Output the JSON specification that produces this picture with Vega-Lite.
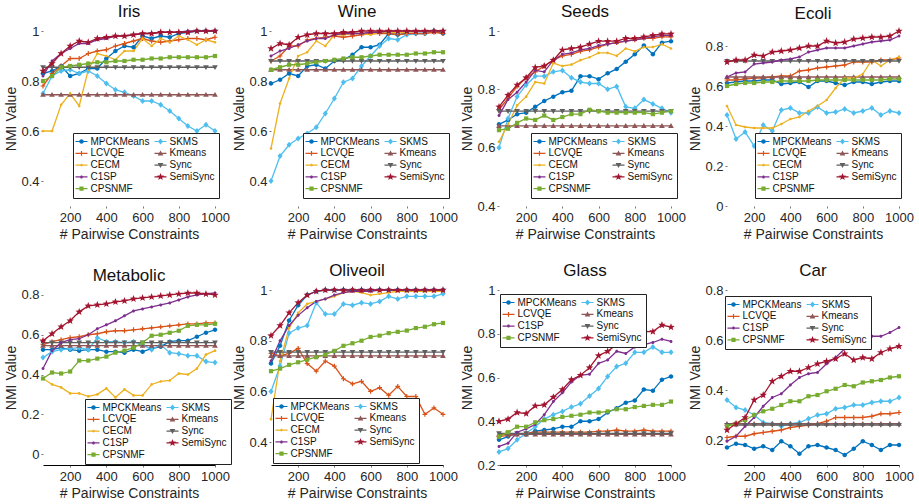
{
"$schema": "https://vega.github.io/schema/vega-lite/v6.json",
"background": "white",
"padding": {"left": 4, "top": 3, "right": 4, "bottom": 4},
"config": {
 "font": "Liberation Sans",
 "view": {"stroke": null},
 "title": {"fontSize": 17, "fontWeight": "normal", "color": "#111", "offset": 0, "font": "Liberation Sans"},
 "axis": {"labelFontSize": 13, "labelColor": "#262626", "titleFontSize": 14, "titleFontWeight": "normal", "titleColor": "#262626", "grid": false, "domain": false, "ticks": true, "tickSize": 2, "tickColor": "#777", "labelFont": "Liberation Sans", "titleFont": "Liberation Sans", "labelOverlap": false, "labelFlush": false},
 "axisX": {"labelPadding": 3, "titlePadding": 3, "format": "d"},
 "axisY": {"labelPadding": 2, "titlePadding": 2},
 "legend": {"padding": 3.5, "strokeColor": "#222", "fillColor": "white", "labelFont": "Liberation Sans", "labelFontSize": 10, "labelColor": "#111", "labelOffset": 4, "columnPadding": 5, "rowPadding": 1.8, "symbolSize": 36, "symbolOpacity": 1, "symbolStrokeWidth": 0, "offset": 0, "direction": "horizontal"}
},
"datasets": {
"iris": [
{"m":"MPCKMeans","x":50,"y":0.83},{"m":"MPCKMeans","x":100,"y":0.84},{"m":"MPCKMeans","x":150,"y":0.86},{"m":"MPCKMeans","x":200,"y":0.82},{"m":"MPCKMeans","x":250,"y":0.83},{"m":"MPCKMeans","x":300,"y":0.85},{"m":"MPCKMeans","x":350,"y":0.85},{"m":"MPCKMeans","x":400,"y":0.89},{"m":"MPCKMeans","x":450,"y":0.92},{"m":"MPCKMeans","x":500,"y":0.94},{"m":"MPCKMeans","x":550,"y":0.935},{"m":"MPCKMeans","x":600,"y":0.98},{"m":"MPCKMeans","x":650,"y":0.97},{"m":"MPCKMeans","x":700,"y":0.98},{"m":"MPCKMeans","x":750,"y":0.975},{"m":"MPCKMeans","x":800,"y":0.99},{"m":"MPCKMeans","x":850,"y":0.995},{"m":"MPCKMeans","x":900,"y":1},{"m":"MPCKMeans","x":950,"y":1},{"m":"MPCKMeans","x":1000,"y":1},
{"m":"SKMS","x":50,"y":0.75},{"m":"SKMS","x":100,"y":0.82},{"m":"SKMS","x":150,"y":0.84},{"m":"SKMS","x":200,"y":0.845},{"m":"SKMS","x":250,"y":0.83},{"m":"SKMS","x":300,"y":0.84},{"m":"SKMS","x":350,"y":0.82},{"m":"SKMS","x":400,"y":0.79},{"m":"SKMS","x":450,"y":0.765},{"m":"SKMS","x":500,"y":0.755},{"m":"SKMS","x":550,"y":0.74},{"m":"SKMS","x":600,"y":0.72},{"m":"SKMS","x":650,"y":0.72},{"m":"SKMS","x":700,"y":0.705},{"m":"SKMS","x":750,"y":0.68},{"m":"SKMS","x":800,"y":0.65},{"m":"SKMS","x":850,"y":0.62},{"m":"SKMS","x":900,"y":0.6},{"m":"SKMS","x":950,"y":0.625},{"m":"SKMS","x":1000,"y":0.6},
{"m":"LCVQE","x":50,"y":0.78},{"m":"LCVQE","x":100,"y":0.83},{"m":"LCVQE","x":150,"y":0.86},{"m":"LCVQE","x":200,"y":0.89},{"m":"LCVQE","x":250,"y":0.89},{"m":"LCVQE","x":300,"y":0.91},{"m":"LCVQE","x":350,"y":0.92},{"m":"LCVQE","x":400,"y":0.925},{"m":"LCVQE","x":450,"y":0.94},{"m":"LCVQE","x":500,"y":0.95},{"m":"LCVQE","x":550,"y":0.96},{"m":"LCVQE","x":600,"y":0.97},{"m":"LCVQE","x":650,"y":0.96},{"m":"LCVQE","x":700,"y":0.955},{"m":"LCVQE","x":750,"y":0.96},{"m":"LCVQE","x":800,"y":0.965},{"m":"LCVQE","x":850,"y":0.97},{"m":"LCVQE","x":900,"y":0.97},{"m":"LCVQE","x":950,"y":0.965},{"m":"LCVQE","x":1000,"y":0.975},
{"m":"Kmeans","x":50,"y":0.745},{"m":"Kmeans","x":100,"y":0.745},{"m":"Kmeans","x":150,"y":0.745},{"m":"Kmeans","x":200,"y":0.745},{"m":"Kmeans","x":250,"y":0.745},{"m":"Kmeans","x":300,"y":0.745},{"m":"Kmeans","x":350,"y":0.745},{"m":"Kmeans","x":400,"y":0.745},{"m":"Kmeans","x":450,"y":0.745},{"m":"Kmeans","x":500,"y":0.745},{"m":"Kmeans","x":550,"y":0.745},{"m":"Kmeans","x":600,"y":0.745},{"m":"Kmeans","x":650,"y":0.745},{"m":"Kmeans","x":700,"y":0.745},{"m":"Kmeans","x":750,"y":0.745},{"m":"Kmeans","x":800,"y":0.745},{"m":"Kmeans","x":850,"y":0.745},{"m":"Kmeans","x":900,"y":0.745},{"m":"Kmeans","x":950,"y":0.745},{"m":"Kmeans","x":1000,"y":0.745},
{"m":"CECM","x":50,"y":0.6},{"m":"CECM","x":100,"y":0.6},{"m":"CECM","x":150,"y":0.705},{"m":"CECM","x":200,"y":0.75},{"m":"CECM","x":250,"y":0.7},{"m":"CECM","x":300,"y":0.845},{"m":"CECM","x":350,"y":0.91},{"m":"CECM","x":400,"y":0.9},{"m":"CECM","x":450,"y":0.885},{"m":"CECM","x":500,"y":0.92},{"m":"CECM","x":550,"y":0.92},{"m":"CECM","x":600,"y":0.97},{"m":"CECM","x":650,"y":0.94},{"m":"CECM","x":700,"y":0.97},{"m":"CECM","x":750,"y":0.955},{"m":"CECM","x":800,"y":0.98},{"m":"CECM","x":850,"y":0.965},{"m":"CECM","x":900,"y":0.945},{"m":"CECM","x":950,"y":0.965},{"m":"CECM","x":1000,"y":0.955},
{"m":"Sync","x":50,"y":0.855},{"m":"Sync","x":100,"y":0.855},{"m":"Sync","x":150,"y":0.855},{"m":"Sync","x":200,"y":0.855},{"m":"Sync","x":250,"y":0.855},{"m":"Sync","x":300,"y":0.855},{"m":"Sync","x":350,"y":0.855},{"m":"Sync","x":400,"y":0.855},{"m":"Sync","x":450,"y":0.855},{"m":"Sync","x":500,"y":0.855},{"m":"Sync","x":550,"y":0.855},{"m":"Sync","x":600,"y":0.855},{"m":"Sync","x":650,"y":0.855},{"m":"Sync","x":700,"y":0.855},{"m":"Sync","x":750,"y":0.855},{"m":"Sync","x":800,"y":0.855},{"m":"Sync","x":850,"y":0.855},{"m":"Sync","x":900,"y":0.855},{"m":"Sync","x":950,"y":0.855},{"m":"Sync","x":1000,"y":0.855},
{"m":"C1SP","x":50,"y":0.82},{"m":"C1SP","x":100,"y":0.88},{"m":"C1SP","x":150,"y":0.91},{"m":"C1SP","x":200,"y":0.93},{"m":"C1SP","x":250,"y":0.95},{"m":"C1SP","x":300,"y":0.95},{"m":"C1SP","x":350,"y":0.965},{"m":"C1SP","x":400,"y":0.97},{"m":"C1SP","x":450,"y":0.98},{"m":"C1SP","x":500,"y":0.98},{"m":"C1SP","x":550,"y":0.985},{"m":"C1SP","x":600,"y":0.99},{"m":"C1SP","x":650,"y":0.99},{"m":"C1SP","x":700,"y":0.995},{"m":"C1SP","x":750,"y":0.995},{"m":"C1SP","x":800,"y":0.995},{"m":"C1SP","x":850,"y":1},{"m":"C1SP","x":900,"y":1},{"m":"C1SP","x":950,"y":1},{"m":"C1SP","x":1000,"y":1},
{"m":"CPSNMF","x":50,"y":0.8},{"m":"CPSNMF","x":100,"y":0.82},{"m":"CPSNMF","x":150,"y":0.855},{"m":"CPSNMF","x":200,"y":0.86},{"m":"CPSNMF","x":250,"y":0.865},{"m":"CPSNMF","x":300,"y":0.87},{"m":"CPSNMF","x":350,"y":0.875},{"m":"CPSNMF","x":400,"y":0.875},{"m":"CPSNMF","x":450,"y":0.88},{"m":"CPSNMF","x":500,"y":0.88},{"m":"CPSNMF","x":550,"y":0.885},{"m":"CPSNMF","x":600,"y":0.885},{"m":"CPSNMF","x":650,"y":0.89},{"m":"CPSNMF","x":700,"y":0.89},{"m":"CPSNMF","x":750,"y":0.895},{"m":"CPSNMF","x":800,"y":0.895},{"m":"CPSNMF","x":850,"y":0.895},{"m":"CPSNMF","x":900,"y":0.895},{"m":"CPSNMF","x":950,"y":0.895},{"m":"CPSNMF","x":1000,"y":0.9},
{"m":"SemiSync","x":50,"y":0.84},{"m":"SemiSync","x":100,"y":0.87},{"m":"SemiSync","x":150,"y":0.91},{"m":"SemiSync","x":200,"y":0.94},{"m":"SemiSync","x":250,"y":0.96},{"m":"SemiSync","x":300,"y":0.955},{"m":"SemiSync","x":350,"y":0.97},{"m":"SemiSync","x":400,"y":0.975},{"m":"SemiSync","x":450,"y":0.98},{"m":"SemiSync","x":500,"y":0.98},{"m":"SemiSync","x":550,"y":0.985},{"m":"SemiSync","x":600,"y":0.99},{"m":"SemiSync","x":650,"y":0.99},{"m":"SemiSync","x":700,"y":0.995},{"m":"SemiSync","x":750,"y":0.995},{"m":"SemiSync","x":800,"y":0.995},{"m":"SemiSync","x":850,"y":0.995},{"m":"SemiSync","x":900,"y":1},{"m":"SemiSync","x":950,"y":1},{"m":"SemiSync","x":1000,"y":1}
],
"wine": [
{"m":"MPCKMeans","x":50,"y":0.79},{"m":"MPCKMeans","x":100,"y":0.805},{"m":"MPCKMeans","x":150,"y":0.83},{"m":"MPCKMeans","x":200,"y":0.82},{"m":"MPCKMeans","x":250,"y":0.86},{"m":"MPCKMeans","x":300,"y":0.865},{"m":"MPCKMeans","x":350,"y":0.85},{"m":"MPCKMeans","x":400,"y":0.88},{"m":"MPCKMeans","x":450,"y":0.885},{"m":"MPCKMeans","x":500,"y":0.905},{"m":"MPCKMeans","x":550,"y":0.935},{"m":"MPCKMeans","x":600,"y":0.935},{"m":"MPCKMeans","x":650,"y":0.945},{"m":"MPCKMeans","x":700,"y":0.99},{"m":"MPCKMeans","x":750,"y":0.985},{"m":"MPCKMeans","x":800,"y":0.99},{"m":"MPCKMeans","x":850,"y":0.99},{"m":"MPCKMeans","x":900,"y":0.99},{"m":"MPCKMeans","x":950,"y":1},{"m":"MPCKMeans","x":1000,"y":0.99},
{"m":"SKMS","x":50,"y":0.4},{"m":"SKMS","x":100,"y":0.5},{"m":"SKMS","x":150,"y":0.545},{"m":"SKMS","x":200,"y":0.57},{"m":"SKMS","x":250,"y":0.59},{"m":"SKMS","x":300,"y":0.615},{"m":"SKMS","x":350,"y":0.67},{"m":"SKMS","x":400,"y":0.73},{"m":"SKMS","x":450,"y":0.795},{"m":"SKMS","x":500,"y":0.81},{"m":"SKMS","x":550,"y":0.86},{"m":"SKMS","x":600,"y":0.9},{"m":"SKMS","x":650,"y":0.94},{"m":"SKMS","x":700,"y":0.97},{"m":"SKMS","x":750,"y":0.965},{"m":"SKMS","x":800,"y":0.985},{"m":"SKMS","x":850,"y":0.99},{"m":"SKMS","x":900,"y":0.99},{"m":"SKMS","x":950,"y":1},{"m":"SKMS","x":1000,"y":1},
{"m":"LCVQE","x":50,"y":0.88},{"m":"LCVQE","x":100,"y":0.9},{"m":"LCVQE","x":150,"y":0.94},{"m":"LCVQE","x":200,"y":0.94},{"m":"LCVQE","x":250,"y":0.965},{"m":"LCVQE","x":300,"y":0.97},{"m":"LCVQE","x":350,"y":0.975},{"m":"LCVQE","x":400,"y":0.98},{"m":"LCVQE","x":450,"y":0.975},{"m":"LCVQE","x":500,"y":0.98},{"m":"LCVQE","x":550,"y":0.985},{"m":"LCVQE","x":600,"y":0.99},{"m":"LCVQE","x":650,"y":0.99},{"m":"LCVQE","x":700,"y":0.99},{"m":"LCVQE","x":750,"y":0.985},{"m":"LCVQE","x":800,"y":0.99},{"m":"LCVQE","x":850,"y":0.99},{"m":"LCVQE","x":900,"y":0.99},{"m":"LCVQE","x":950,"y":0.995},{"m":"LCVQE","x":1000,"y":0.99},
{"m":"Kmeans","x":50,"y":0.845},{"m":"Kmeans","x":100,"y":0.845},{"m":"Kmeans","x":150,"y":0.845},{"m":"Kmeans","x":200,"y":0.845},{"m":"Kmeans","x":250,"y":0.845},{"m":"Kmeans","x":300,"y":0.845},{"m":"Kmeans","x":350,"y":0.845},{"m":"Kmeans","x":400,"y":0.845},{"m":"Kmeans","x":450,"y":0.845},{"m":"Kmeans","x":500,"y":0.845},{"m":"Kmeans","x":550,"y":0.845},{"m":"Kmeans","x":600,"y":0.845},{"m":"Kmeans","x":650,"y":0.845},{"m":"Kmeans","x":700,"y":0.845},{"m":"Kmeans","x":750,"y":0.845},{"m":"Kmeans","x":800,"y":0.845},{"m":"Kmeans","x":850,"y":0.845},{"m":"Kmeans","x":900,"y":0.845},{"m":"Kmeans","x":950,"y":0.845},{"m":"Kmeans","x":1000,"y":0.845},
{"m":"CECM","x":50,"y":0.53},{"m":"CECM","x":100,"y":0.71},{"m":"CECM","x":150,"y":0.81},{"m":"CECM","x":200,"y":0.9},{"m":"CECM","x":250,"y":0.915},{"m":"CECM","x":300,"y":0.96},{"m":"CECM","x":350,"y":0.94},{"m":"CECM","x":400,"y":0.985},{"m":"CECM","x":450,"y":0.985},{"m":"CECM","x":500,"y":0.99},{"m":"CECM","x":550,"y":0.99},{"m":"CECM","x":600,"y":0.985},{"m":"CECM","x":650,"y":0.995},{"m":"CECM","x":700,"y":0.995},{"m":"CECM","x":750,"y":0.995},{"m":"CECM","x":800,"y":0.995},{"m":"CECM","x":850,"y":1},{"m":"CECM","x":900,"y":1},{"m":"CECM","x":950,"y":1},{"m":"CECM","x":1000,"y":1},
{"m":"Sync","x":50,"y":0.88},{"m":"Sync","x":100,"y":0.88},{"m":"Sync","x":150,"y":0.88},{"m":"Sync","x":200,"y":0.88},{"m":"Sync","x":250,"y":0.88},{"m":"Sync","x":300,"y":0.88},{"m":"Sync","x":350,"y":0.88},{"m":"Sync","x":400,"y":0.88},{"m":"Sync","x":450,"y":0.88},{"m":"Sync","x":500,"y":0.88},{"m":"Sync","x":550,"y":0.88},{"m":"Sync","x":600,"y":0.88},{"m":"Sync","x":650,"y":0.88},{"m":"Sync","x":700,"y":0.88},{"m":"Sync","x":750,"y":0.88},{"m":"Sync","x":800,"y":0.88},{"m":"Sync","x":850,"y":0.88},{"m":"Sync","x":900,"y":0.88},{"m":"Sync","x":950,"y":0.88},{"m":"Sync","x":1000,"y":0.88},
{"m":"C1SP","x":50,"y":0.9},{"m":"C1SP","x":100,"y":0.92},{"m":"C1SP","x":150,"y":0.93},{"m":"C1SP","x":200,"y":0.945},{"m":"C1SP","x":250,"y":0.96},{"m":"C1SP","x":300,"y":0.97},{"m":"C1SP","x":350,"y":0.97},{"m":"C1SP","x":400,"y":0.985},{"m":"C1SP","x":450,"y":0.99},{"m":"C1SP","x":500,"y":0.99},{"m":"C1SP","x":550,"y":0.99},{"m":"C1SP","x":600,"y":0.995},{"m":"C1SP","x":650,"y":0.995},{"m":"C1SP","x":700,"y":1},{"m":"C1SP","x":750,"y":1},{"m":"C1SP","x":800,"y":1},{"m":"C1SP","x":850,"y":1},{"m":"C1SP","x":900,"y":1},{"m":"C1SP","x":950,"y":1},{"m":"C1SP","x":1000,"y":1},
{"m":"CPSNMF","x":50,"y":0.845},{"m":"CPSNMF","x":100,"y":0.855},{"m":"CPSNMF","x":150,"y":0.865},{"m":"CPSNMF","x":200,"y":0.865},{"m":"CPSNMF","x":250,"y":0.87},{"m":"CPSNMF","x":300,"y":0.875},{"m":"CPSNMF","x":350,"y":0.88},{"m":"CPSNMF","x":400,"y":0.885},{"m":"CPSNMF","x":450,"y":0.89},{"m":"CPSNMF","x":500,"y":0.895},{"m":"CPSNMF","x":550,"y":0.895},{"m":"CPSNMF","x":600,"y":0.9},{"m":"CPSNMF","x":650,"y":0.905},{"m":"CPSNMF","x":700,"y":0.905},{"m":"CPSNMF","x":750,"y":0.905},{"m":"CPSNMF","x":800,"y":0.905},{"m":"CPSNMF","x":850,"y":0.91},{"m":"CPSNMF","x":900,"y":0.91},{"m":"CPSNMF","x":950,"y":0.915},{"m":"CPSNMF","x":1000,"y":0.915},
{"m":"SemiSync","x":50,"y":0.93},{"m":"SemiSync","x":100,"y":0.95},{"m":"SemiSync","x":150,"y":0.945},{"m":"SemiSync","x":200,"y":0.975},{"m":"SemiSync","x":250,"y":0.985},{"m":"SemiSync","x":300,"y":0.99},{"m":"SemiSync","x":350,"y":0.99},{"m":"SemiSync","x":400,"y":0.99},{"m":"SemiSync","x":450,"y":0.995},{"m":"SemiSync","x":500,"y":0.995},{"m":"SemiSync","x":550,"y":1},{"m":"SemiSync","x":600,"y":1},{"m":"SemiSync","x":650,"y":1},{"m":"SemiSync","x":700,"y":1},{"m":"SemiSync","x":750,"y":1},{"m":"SemiSync","x":800,"y":1},{"m":"SemiSync","x":850,"y":1},{"m":"SemiSync","x":900,"y":1},{"m":"SemiSync","x":950,"y":1},{"m":"SemiSync","x":1000,"y":1}
],
"seeds": [
{"m":"MPCKMeans","x":50,"y":0.68},{"m":"MPCKMeans","x":100,"y":0.695},{"m":"MPCKMeans","x":150,"y":0.715},{"m":"MPCKMeans","x":200,"y":0.72},{"m":"MPCKMeans","x":250,"y":0.74},{"m":"MPCKMeans","x":300,"y":0.76},{"m":"MPCKMeans","x":350,"y":0.775},{"m":"MPCKMeans","x":400,"y":0.79},{"m":"MPCKMeans","x":450,"y":0.795},{"m":"MPCKMeans","x":500,"y":0.845},{"m":"MPCKMeans","x":550,"y":0.845},{"m":"MPCKMeans","x":600,"y":0.835},{"m":"MPCKMeans","x":650,"y":0.855},{"m":"MPCKMeans","x":700,"y":0.87},{"m":"MPCKMeans","x":750,"y":0.895},{"m":"MPCKMeans","x":800,"y":0.92},{"m":"MPCKMeans","x":850,"y":0.95},{"m":"MPCKMeans","x":900,"y":0.92},{"m":"MPCKMeans","x":950,"y":0.96},{"m":"MPCKMeans","x":1000,"y":0.965},
{"m":"SKMS","x":50,"y":0.6},{"m":"SKMS","x":100,"y":0.7},{"m":"SKMS","x":150,"y":0.775},{"m":"SKMS","x":200,"y":0.815},{"m":"SKMS","x":250,"y":0.845},{"m":"SKMS","x":300,"y":0.845},{"m":"SKMS","x":350,"y":0.86},{"m":"SKMS","x":400,"y":0.865},{"m":"SKMS","x":450,"y":0.84},{"m":"SKMS","x":500,"y":0.825},{"m":"SKMS","x":550,"y":0.82},{"m":"SKMS","x":600,"y":0.82},{"m":"SKMS","x":650,"y":0.8},{"m":"SKMS","x":700,"y":0.81},{"m":"SKMS","x":750,"y":0.74},{"m":"SKMS","x":800,"y":0.735},{"m":"SKMS","x":850,"y":0.765},{"m":"SKMS","x":900,"y":0.75},{"m":"SKMS","x":950,"y":0.735},{"m":"SKMS","x":1000,"y":0.72},
{"m":"LCVQE","x":50,"y":0.73},{"m":"LCVQE","x":100,"y":0.77},{"m":"LCVQE","x":150,"y":0.81},{"m":"LCVQE","x":200,"y":0.84},{"m":"LCVQE","x":250,"y":0.86},{"m":"LCVQE","x":300,"y":0.88},{"m":"LCVQE","x":350,"y":0.9},{"m":"LCVQE","x":400,"y":0.915},{"m":"LCVQE","x":450,"y":0.92},{"m":"LCVQE","x":500,"y":0.93},{"m":"LCVQE","x":550,"y":0.935},{"m":"LCVQE","x":600,"y":0.945},{"m":"LCVQE","x":650,"y":0.955},{"m":"LCVQE","x":700,"y":0.96},{"m":"LCVQE","x":750,"y":0.965},{"m":"LCVQE","x":800,"y":0.97},{"m":"LCVQE","x":850,"y":0.975},{"m":"LCVQE","x":900,"y":0.975},{"m":"LCVQE","x":950,"y":0.98},{"m":"LCVQE","x":1000,"y":0.98},
{"m":"Kmeans","x":50,"y":0.675},{"m":"Kmeans","x":100,"y":0.675},{"m":"Kmeans","x":150,"y":0.675},{"m":"Kmeans","x":200,"y":0.675},{"m":"Kmeans","x":250,"y":0.675},{"m":"Kmeans","x":300,"y":0.675},{"m":"Kmeans","x":350,"y":0.675},{"m":"Kmeans","x":400,"y":0.675},{"m":"Kmeans","x":450,"y":0.675},{"m":"Kmeans","x":500,"y":0.675},{"m":"Kmeans","x":550,"y":0.675},{"m":"Kmeans","x":600,"y":0.675},{"m":"Kmeans","x":650,"y":0.675},{"m":"Kmeans","x":700,"y":0.675},{"m":"Kmeans","x":750,"y":0.675},{"m":"Kmeans","x":800,"y":0.675},{"m":"Kmeans","x":850,"y":0.675},{"m":"Kmeans","x":900,"y":0.675},{"m":"Kmeans","x":950,"y":0.675},{"m":"Kmeans","x":1000,"y":0.675},
{"m":"CECM","x":50,"y":0.62},{"m":"CECM","x":100,"y":0.68},{"m":"CECM","x":150,"y":0.745},{"m":"CECM","x":200,"y":0.775},{"m":"CECM","x":250,"y":0.825},{"m":"CECM","x":300,"y":0.82},{"m":"CECM","x":350,"y":0.89},{"m":"CECM","x":400,"y":0.88},{"m":"CECM","x":450,"y":0.885},{"m":"CECM","x":500,"y":0.9},{"m":"CECM","x":550,"y":0.91},{"m":"CECM","x":600,"y":0.925},{"m":"CECM","x":650,"y":0.925},{"m":"CECM","x":700,"y":0.915},{"m":"CECM","x":750,"y":0.94},{"m":"CECM","x":800,"y":0.93},{"m":"CECM","x":850,"y":0.945},{"m":"CECM","x":900,"y":0.945},{"m":"CECM","x":950,"y":0.955},{"m":"CECM","x":1000,"y":0.94},
{"m":"Sync","x":50,"y":0.725},{"m":"Sync","x":100,"y":0.725},{"m":"Sync","x":150,"y":0.725},{"m":"Sync","x":200,"y":0.725},{"m":"Sync","x":250,"y":0.725},{"m":"Sync","x":300,"y":0.725},{"m":"Sync","x":350,"y":0.725},{"m":"Sync","x":400,"y":0.725},{"m":"Sync","x":450,"y":0.725},{"m":"Sync","x":500,"y":0.725},{"m":"Sync","x":550,"y":0.725},{"m":"Sync","x":600,"y":0.725},{"m":"Sync","x":650,"y":0.725},{"m":"Sync","x":700,"y":0.725},{"m":"Sync","x":750,"y":0.725},{"m":"Sync","x":800,"y":0.725},{"m":"Sync","x":850,"y":0.725},{"m":"Sync","x":900,"y":0.725},{"m":"Sync","x":950,"y":0.725},{"m":"Sync","x":1000,"y":0.725},
{"m":"C1SP","x":50,"y":0.71},{"m":"C1SP","x":100,"y":0.765},{"m":"C1SP","x":150,"y":0.79},{"m":"C1SP","x":200,"y":0.825},{"m":"C1SP","x":250,"y":0.865},{"m":"C1SP","x":300,"y":0.86},{"m":"C1SP","x":350,"y":0.9},{"m":"C1SP","x":400,"y":0.92},{"m":"C1SP","x":450,"y":0.925},{"m":"C1SP","x":500,"y":0.935},{"m":"C1SP","x":550,"y":0.94},{"m":"C1SP","x":600,"y":0.95},{"m":"C1SP","x":650,"y":0.955},{"m":"C1SP","x":700,"y":0.96},{"m":"C1SP","x":750,"y":0.965},{"m":"C1SP","x":800,"y":0.97},{"m":"C1SP","x":850,"y":0.975},{"m":"C1SP","x":900,"y":0.98},{"m":"C1SP","x":950,"y":0.985},{"m":"C1SP","x":1000,"y":0.985},
{"m":"CPSNMF","x":50,"y":0.66},{"m":"CPSNMF","x":100,"y":0.665},{"m":"CPSNMF","x":150,"y":0.685},{"m":"CPSNMF","x":200,"y":0.7},{"m":"CPSNMF","x":250,"y":0.695},{"m":"CPSNMF","x":300,"y":0.71},{"m":"CPSNMF","x":350,"y":0.695},{"m":"CPSNMF","x":400,"y":0.705},{"m":"CPSNMF","x":450,"y":0.715},{"m":"CPSNMF","x":500,"y":0.715},{"m":"CPSNMF","x":550,"y":0.73},{"m":"CPSNMF","x":600,"y":0.725},{"m":"CPSNMF","x":650,"y":0.72},{"m":"CPSNMF","x":700,"y":0.72},{"m":"CPSNMF","x":750,"y":0.72},{"m":"CPSNMF","x":800,"y":0.72},{"m":"CPSNMF","x":850,"y":0.72},{"m":"CPSNMF","x":900,"y":0.715},{"m":"CPSNMF","x":950,"y":0.72},{"m":"CPSNMF","x":1000,"y":0.725},
{"m":"SemiSync","x":50,"y":0.74},{"m":"SemiSync","x":100,"y":0.78},{"m":"SemiSync","x":150,"y":0.815},{"m":"SemiSync","x":200,"y":0.84},{"m":"SemiSync","x":250,"y":0.875},{"m":"SemiSync","x":300,"y":0.88},{"m":"SemiSync","x":350,"y":0.9},{"m":"SemiSync","x":400,"y":0.935},{"m":"SemiSync","x":450,"y":0.94},{"m":"SemiSync","x":500,"y":0.945},{"m":"SemiSync","x":550,"y":0.955},{"m":"SemiSync","x":600,"y":0.965},{"m":"SemiSync","x":650,"y":0.965},{"m":"SemiSync","x":700,"y":0.965},{"m":"SemiSync","x":750,"y":0.975},{"m":"SemiSync","x":800,"y":0.975},{"m":"SemiSync","x":850,"y":0.98},{"m":"SemiSync","x":900,"y":0.985},{"m":"SemiSync","x":950,"y":0.99},{"m":"SemiSync","x":1000,"y":0.99}
],
"ecoli": [
{"m":"MPCKMeans","x":50,"y":0.615},{"m":"MPCKMeans","x":100,"y":0.62},{"m":"MPCKMeans","x":150,"y":0.625},{"m":"MPCKMeans","x":200,"y":0.625},{"m":"MPCKMeans","x":250,"y":0.63},{"m":"MPCKMeans","x":300,"y":0.63},{"m":"MPCKMeans","x":350,"y":0.61},{"m":"MPCKMeans","x":400,"y":0.615},{"m":"MPCKMeans","x":450,"y":0.62},{"m":"MPCKMeans","x":500,"y":0.595},{"m":"MPCKMeans","x":550,"y":0.625},{"m":"MPCKMeans","x":600,"y":0.625},{"m":"MPCKMeans","x":650,"y":0.615},{"m":"MPCKMeans","x":700,"y":0.605},{"m":"MPCKMeans","x":750,"y":0.62},{"m":"MPCKMeans","x":800,"y":0.62},{"m":"MPCKMeans","x":850,"y":0.61},{"m":"MPCKMeans","x":900,"y":0.62},{"m":"MPCKMeans","x":950,"y":0.625},{"m":"MPCKMeans","x":1000,"y":0.625},
{"m":"SKMS","x":50,"y":0.455},{"m":"SKMS","x":100,"y":0.335},{"m":"SKMS","x":150,"y":0.37},{"m":"SKMS","x":200,"y":0.3},{"m":"SKMS","x":250,"y":0.405},{"m":"SKMS","x":300,"y":0.375},{"m":"SKMS","x":350,"y":0.48},{"m":"SKMS","x":400,"y":0.49},{"m":"SKMS","x":450,"y":0.465},{"m":"SKMS","x":500,"y":0.465},{"m":"SKMS","x":550,"y":0.495},{"m":"SKMS","x":600,"y":0.465},{"m":"SKMS","x":650,"y":0.47},{"m":"SKMS","x":700,"y":0.485},{"m":"SKMS","x":750,"y":0.465},{"m":"SKMS","x":800,"y":0.475},{"m":"SKMS","x":850,"y":0.49},{"m":"SKMS","x":900,"y":0.455},{"m":"SKMS","x":950,"y":0.475},{"m":"SKMS","x":1000,"y":0.465},
{"m":"LCVQE","x":50,"y":0.63},{"m":"LCVQE","x":100,"y":0.63},{"m":"LCVQE","x":150,"y":0.635},{"m":"LCVQE","x":200,"y":0.64},{"m":"LCVQE","x":250,"y":0.64},{"m":"LCVQE","x":300,"y":0.645},{"m":"LCVQE","x":350,"y":0.65},{"m":"LCVQE","x":400,"y":0.65},{"m":"LCVQE","x":450,"y":0.675},{"m":"LCVQE","x":500,"y":0.68},{"m":"LCVQE","x":550,"y":0.69},{"m":"LCVQE","x":600,"y":0.695},{"m":"LCVQE","x":650,"y":0.7},{"m":"LCVQE","x":700,"y":0.705},{"m":"LCVQE","x":750,"y":0.72},{"m":"LCVQE","x":800,"y":0.72},{"m":"LCVQE","x":850,"y":0.72},{"m":"LCVQE","x":900,"y":0.73},{"m":"LCVQE","x":950,"y":0.73},{"m":"LCVQE","x":1000,"y":0.74},
{"m":"Kmeans","x":50,"y":0.645},{"m":"Kmeans","x":100,"y":0.645},{"m":"Kmeans","x":150,"y":0.645},{"m":"Kmeans","x":200,"y":0.645},{"m":"Kmeans","x":250,"y":0.645},{"m":"Kmeans","x":300,"y":0.645},{"m":"Kmeans","x":350,"y":0.645},{"m":"Kmeans","x":400,"y":0.645},{"m":"Kmeans","x":450,"y":0.645},{"m":"Kmeans","x":500,"y":0.645},{"m":"Kmeans","x":550,"y":0.645},{"m":"Kmeans","x":600,"y":0.645},{"m":"Kmeans","x":650,"y":0.645},{"m":"Kmeans","x":700,"y":0.645},{"m":"Kmeans","x":750,"y":0.645},{"m":"Kmeans","x":800,"y":0.645},{"m":"Kmeans","x":850,"y":0.645},{"m":"Kmeans","x":900,"y":0.645},{"m":"Kmeans","x":950,"y":0.645},{"m":"Kmeans","x":1000,"y":0.645},
{"m":"CECM","x":50,"y":0.5},{"m":"CECM","x":100,"y":0.405},{"m":"CECM","x":150,"y":0.395},{"m":"CECM","x":200,"y":0.39},{"m":"CECM","x":250,"y":0.39},{"m":"CECM","x":300,"y":0.39},{"m":"CECM","x":350,"y":0.41},{"m":"CECM","x":400,"y":0.435},{"m":"CECM","x":450,"y":0.445},{"m":"CECM","x":500,"y":0.475},{"m":"CECM","x":550,"y":0.5},{"m":"CECM","x":600,"y":0.53},{"m":"CECM","x":650,"y":0.59},{"m":"CECM","x":700,"y":0.64},{"m":"CECM","x":750,"y":0.64},{"m":"CECM","x":800,"y":0.66},{"m":"CECM","x":850,"y":0.73},{"m":"CECM","x":900,"y":0.7},{"m":"CECM","x":950,"y":0.73},{"m":"CECM","x":1000,"y":0.745},
{"m":"Sync","x":50,"y":0.725},{"m":"Sync","x":100,"y":0.725},{"m":"Sync","x":150,"y":0.725},{"m":"Sync","x":200,"y":0.725},{"m":"Sync","x":250,"y":0.725},{"m":"Sync","x":300,"y":0.725},{"m":"Sync","x":350,"y":0.725},{"m":"Sync","x":400,"y":0.725},{"m":"Sync","x":450,"y":0.725},{"m":"Sync","x":500,"y":0.725},{"m":"Sync","x":550,"y":0.725},{"m":"Sync","x":600,"y":0.725},{"m":"Sync","x":650,"y":0.725},{"m":"Sync","x":700,"y":0.725},{"m":"Sync","x":750,"y":0.725},{"m":"Sync","x":800,"y":0.725},{"m":"Sync","x":850,"y":0.725},{"m":"Sync","x":900,"y":0.725},{"m":"Sync","x":950,"y":0.725},{"m":"Sync","x":1000,"y":0.725},
{"m":"C1SP","x":50,"y":0.645},{"m":"C1SP","x":100,"y":0.665},{"m":"C1SP","x":150,"y":0.67},{"m":"C1SP","x":200,"y":0.71},{"m":"C1SP","x":250,"y":0.715},{"m":"C1SP","x":300,"y":0.72},{"m":"C1SP","x":350,"y":0.73},{"m":"C1SP","x":400,"y":0.735},{"m":"C1SP","x":450,"y":0.745},{"m":"C1SP","x":500,"y":0.77},{"m":"C1SP","x":550,"y":0.78},{"m":"C1SP","x":600,"y":0.79},{"m":"C1SP","x":650,"y":0.79},{"m":"C1SP","x":700,"y":0.79},{"m":"C1SP","x":750,"y":0.8},{"m":"C1SP","x":800,"y":0.81},{"m":"C1SP","x":850,"y":0.82},{"m":"C1SP","x":900,"y":0.825},{"m":"C1SP","x":950,"y":0.83},{"m":"C1SP","x":1000,"y":0.85},
{"m":"CPSNMF","x":50,"y":0.6},{"m":"CPSNMF","x":100,"y":0.61},{"m":"CPSNMF","x":150,"y":0.615},{"m":"CPSNMF","x":200,"y":0.615},{"m":"CPSNMF","x":250,"y":0.62},{"m":"CPSNMF","x":300,"y":0.62},{"m":"CPSNMF","x":350,"y":0.625},{"m":"CPSNMF","x":400,"y":0.625},{"m":"CPSNMF","x":450,"y":0.625},{"m":"CPSNMF","x":500,"y":0.625},{"m":"CPSNMF","x":550,"y":0.63},{"m":"CPSNMF","x":600,"y":0.63},{"m":"CPSNMF","x":650,"y":0.63},{"m":"CPSNMF","x":700,"y":0.63},{"m":"CPSNMF","x":750,"y":0.63},{"m":"CPSNMF","x":800,"y":0.63},{"m":"CPSNMF","x":850,"y":0.63},{"m":"CPSNMF","x":900,"y":0.63},{"m":"CPSNMF","x":950,"y":0.635},{"m":"CPSNMF","x":1000,"y":0.635},
{"m":"SemiSync","x":50,"y":0.72},{"m":"SemiSync","x":100,"y":0.73},{"m":"SemiSync","x":150,"y":0.73},{"m":"SemiSync","x":200,"y":0.755},{"m":"SemiSync","x":250,"y":0.75},{"m":"SemiSync","x":300,"y":0.77},{"m":"SemiSync","x":350,"y":0.775},{"m":"SemiSync","x":400,"y":0.78},{"m":"SemiSync","x":450,"y":0.79},{"m":"SemiSync","x":500,"y":0.8},{"m":"SemiSync","x":550,"y":0.8},{"m":"SemiSync","x":600,"y":0.825},{"m":"SemiSync","x":650,"y":0.815},{"m":"SemiSync","x":700,"y":0.82},{"m":"SemiSync","x":750,"y":0.835},{"m":"SemiSync","x":800,"y":0.84},{"m":"SemiSync","x":850,"y":0.845},{"m":"SemiSync","x":900,"y":0.845},{"m":"SemiSync","x":950,"y":0.85},{"m":"SemiSync","x":1000,"y":0.875}
],
"metabolic": [
{"m":"MPCKMeans","x":50,"y":0.525},{"m":"MPCKMeans","x":100,"y":0.525},{"m":"MPCKMeans","x":150,"y":0.535},{"m":"MPCKMeans","x":200,"y":0.525},{"m":"MPCKMeans","x":250,"y":0.52},{"m":"MPCKMeans","x":300,"y":0.525},{"m":"MPCKMeans","x":350,"y":0.525},{"m":"MPCKMeans","x":400,"y":0.515},{"m":"MPCKMeans","x":450,"y":0.515},{"m":"MPCKMeans","x":500,"y":0.51},{"m":"MPCKMeans","x":550,"y":0.525},{"m":"MPCKMeans","x":600,"y":0.515},{"m":"MPCKMeans","x":650,"y":0.53},{"m":"MPCKMeans","x":700,"y":0.54},{"m":"MPCKMeans","x":750,"y":0.565},{"m":"MPCKMeans","x":800,"y":0.57},{"m":"MPCKMeans","x":850,"y":0.57},{"m":"MPCKMeans","x":900,"y":0.59},{"m":"MPCKMeans","x":950,"y":0.61},{"m":"MPCKMeans","x":1000,"y":0.625},
{"m":"SKMS","x":50,"y":0.485},{"m":"SKMS","x":100,"y":0.515},{"m":"SKMS","x":150,"y":0.525},{"m":"SKMS","x":200,"y":0.53},{"m":"SKMS","x":250,"y":0.535},{"m":"SKMS","x":300,"y":0.525},{"m":"SKMS","x":350,"y":0.585},{"m":"SKMS","x":400,"y":0.565},{"m":"SKMS","x":450,"y":0.565},{"m":"SKMS","x":500,"y":0.56},{"m":"SKMS","x":550,"y":0.565},{"m":"SKMS","x":600,"y":0.55},{"m":"SKMS","x":650,"y":0.525},{"m":"SKMS","x":700,"y":0.55},{"m":"SKMS","x":750,"y":0.51},{"m":"SKMS","x":800,"y":0.505},{"m":"SKMS","x":850,"y":0.495},{"m":"SKMS","x":900,"y":0.495},{"m":"SKMS","x":950,"y":0.465},{"m":"SKMS","x":1000,"y":0.46},
{"m":"LCVQE","x":50,"y":0.55},{"m":"LCVQE","x":100,"y":0.565},{"m":"LCVQE","x":150,"y":0.575},{"m":"LCVQE","x":200,"y":0.585},{"m":"LCVQE","x":250,"y":0.59},{"m":"LCVQE","x":300,"y":0.6},{"m":"LCVQE","x":350,"y":0.605},{"m":"LCVQE","x":400,"y":0.615},{"m":"LCVQE","x":450,"y":0.62},{"m":"LCVQE","x":500,"y":0.62},{"m":"LCVQE","x":550,"y":0.625},{"m":"LCVQE","x":600,"y":0.63},{"m":"LCVQE","x":650,"y":0.635},{"m":"LCVQE","x":700,"y":0.64},{"m":"LCVQE","x":750,"y":0.645},{"m":"LCVQE","x":800,"y":0.65},{"m":"LCVQE","x":850,"y":0.655},{"m":"LCVQE","x":900,"y":0.655},{"m":"LCVQE","x":950,"y":0.66},{"m":"LCVQE","x":1000,"y":0.66},
{"m":"Kmeans","x":50,"y":0.545},{"m":"Kmeans","x":100,"y":0.545},{"m":"Kmeans","x":150,"y":0.545},{"m":"Kmeans","x":200,"y":0.545},{"m":"Kmeans","x":250,"y":0.545},{"m":"Kmeans","x":300,"y":0.545},{"m":"Kmeans","x":350,"y":0.545},{"m":"Kmeans","x":400,"y":0.545},{"m":"Kmeans","x":450,"y":0.545},{"m":"Kmeans","x":500,"y":0.545},{"m":"Kmeans","x":550,"y":0.545},{"m":"Kmeans","x":600,"y":0.545},{"m":"Kmeans","x":650,"y":0.545},{"m":"Kmeans","x":700,"y":0.545},{"m":"Kmeans","x":750,"y":0.545},{"m":"Kmeans","x":800,"y":0.545},{"m":"Kmeans","x":850,"y":0.545},{"m":"Kmeans","x":900,"y":0.545},{"m":"Kmeans","x":950,"y":0.545},{"m":"Kmeans","x":1000,"y":0.545},
{"m":"CECM","x":50,"y":0.38},{"m":"CECM","x":100,"y":0.35},{"m":"CECM","x":150,"y":0.335},{"m":"CECM","x":200,"y":0.305},{"m":"CECM","x":250,"y":0.305},{"m":"CECM","x":300,"y":0.29},{"m":"CECM","x":350,"y":0.3},{"m":"CECM","x":400,"y":0.33},{"m":"CECM","x":450,"y":0.285},{"m":"CECM","x":500,"y":0.325},{"m":"CECM","x":550,"y":0.295},{"m":"CECM","x":600,"y":0.295},{"m":"CECM","x":650,"y":0.35},{"m":"CECM","x":700,"y":0.365},{"m":"CECM","x":750,"y":0.37},{"m":"CECM","x":800,"y":0.405},{"m":"CECM","x":850,"y":0.4},{"m":"CECM","x":900,"y":0.43},{"m":"CECM","x":950,"y":0.5},{"m":"CECM","x":1000,"y":0.52},
{"m":"Sync","x":50,"y":0.56},{"m":"Sync","x":100,"y":0.56},{"m":"Sync","x":150,"y":0.56},{"m":"Sync","x":200,"y":0.56},{"m":"Sync","x":250,"y":0.56},{"m":"Sync","x":300,"y":0.56},{"m":"Sync","x":350,"y":0.56},{"m":"Sync","x":400,"y":0.56},{"m":"Sync","x":450,"y":0.56},{"m":"Sync","x":500,"y":0.56},{"m":"Sync","x":550,"y":0.56},{"m":"Sync","x":600,"y":0.56},{"m":"Sync","x":650,"y":0.56},{"m":"Sync","x":700,"y":0.56},{"m":"Sync","x":750,"y":0.56},{"m":"Sync","x":800,"y":0.56},{"m":"Sync","x":850,"y":0.56},{"m":"Sync","x":900,"y":0.56},{"m":"Sync","x":950,"y":0.56},{"m":"Sync","x":1000,"y":0.56},
{"m":"C1SP","x":50,"y":0.43},{"m":"C1SP","x":100,"y":0.52},{"m":"C1SP","x":150,"y":0.56},{"m":"C1SP","x":200,"y":0.575},{"m":"C1SP","x":250,"y":0.58},{"m":"C1SP","x":300,"y":0.6},{"m":"C1SP","x":350,"y":0.63},{"m":"C1SP","x":400,"y":0.65},{"m":"C1SP","x":450,"y":0.67},{"m":"C1SP","x":500,"y":0.695},{"m":"C1SP","x":550,"y":0.72},{"m":"C1SP","x":600,"y":0.73},{"m":"C1SP","x":650,"y":0.74},{"m":"C1SP","x":700,"y":0.75},{"m":"C1SP","x":750,"y":0.76},{"m":"C1SP","x":800,"y":0.775},{"m":"C1SP","x":850,"y":0.79},{"m":"C1SP","x":900,"y":0.8},{"m":"C1SP","x":950,"y":0.805},{"m":"C1SP","x":1000,"y":0.81},
{"m":"CPSNMF","x":50,"y":0.38},{"m":"CPSNMF","x":100,"y":0.41},{"m":"CPSNMF","x":150,"y":0.405},{"m":"CPSNMF","x":200,"y":0.415},{"m":"CPSNMF","x":250,"y":0.47},{"m":"CPSNMF","x":300,"y":0.47},{"m":"CPSNMF","x":350,"y":0.48},{"m":"CPSNMF","x":400,"y":0.49},{"m":"CPSNMF","x":450,"y":0.51},{"m":"CPSNMF","x":500,"y":0.52},{"m":"CPSNMF","x":550,"y":0.535},{"m":"CPSNMF","x":600,"y":0.56},{"m":"CPSNMF","x":650,"y":0.595},{"m":"CPSNMF","x":700,"y":0.6},{"m":"CPSNMF","x":750,"y":0.61},{"m":"CPSNMF","x":800,"y":0.62},{"m":"CPSNMF","x":850,"y":0.645},{"m":"CPSNMF","x":900,"y":0.65},{"m":"CPSNMF","x":950,"y":0.65},{"m":"CPSNMF","x":1000,"y":0.655},
{"m":"SemiSync","x":50,"y":0.57},{"m":"SemiSync","x":100,"y":0.605},{"m":"SemiSync","x":150,"y":0.64},{"m":"SemiSync","x":200,"y":0.67},{"m":"SemiSync","x":250,"y":0.715},{"m":"SemiSync","x":300,"y":0.745},{"m":"SemiSync","x":350,"y":0.75},{"m":"SemiSync","x":400,"y":0.755},{"m":"SemiSync","x":450,"y":0.765},{"m":"SemiSync","x":500,"y":0.77},{"m":"SemiSync","x":550,"y":0.78},{"m":"SemiSync","x":600,"y":0.785},{"m":"SemiSync","x":650,"y":0.79},{"m":"SemiSync","x":700,"y":0.795},{"m":"SemiSync","x":750,"y":0.8},{"m":"SemiSync","x":800,"y":0.805},{"m":"SemiSync","x":850,"y":0.81},{"m":"SemiSync","x":900,"y":0.81},{"m":"SemiSync","x":950,"y":0.805},{"m":"SemiSync","x":1000,"y":0.8}
],
"oliveoil": [
{"m":"MPCKMeans","x":50,"y":0.71},{"m":"MPCKMeans","x":100,"y":0.78},{"m":"MPCKMeans","x":150,"y":0.88},{"m":"MPCKMeans","x":200,"y":0.94},{"m":"MPCKMeans","x":250,"y":0.98},{"m":"MPCKMeans","x":300,"y":0.995},{"m":"MPCKMeans","x":350,"y":1},{"m":"MPCKMeans","x":400,"y":1},{"m":"MPCKMeans","x":450,"y":1},{"m":"MPCKMeans","x":500,"y":1},{"m":"MPCKMeans","x":550,"y":1},{"m":"MPCKMeans","x":600,"y":1},{"m":"MPCKMeans","x":650,"y":1},{"m":"MPCKMeans","x":700,"y":1},{"m":"MPCKMeans","x":750,"y":1},{"m":"MPCKMeans","x":800,"y":1},{"m":"MPCKMeans","x":850,"y":1},{"m":"MPCKMeans","x":900,"y":1},{"m":"MPCKMeans","x":950,"y":1},{"m":"MPCKMeans","x":1000,"y":1},
{"m":"SKMS","x":50,"y":0.6},{"m":"SKMS","x":100,"y":0.7},{"m":"SKMS","x":150,"y":0.83},{"m":"SKMS","x":200,"y":0.85},{"m":"SKMS","x":250,"y":0.86},{"m":"SKMS","x":300,"y":0.95},{"m":"SKMS","x":350,"y":0.905},{"m":"SKMS","x":400,"y":0.905},{"m":"SKMS","x":450,"y":0.945},{"m":"SKMS","x":500,"y":0.94},{"m":"SKMS","x":550,"y":0.95},{"m":"SKMS","x":600,"y":0.945},{"m":"SKMS","x":650,"y":0.955},{"m":"SKMS","x":700,"y":0.975},{"m":"SKMS","x":750,"y":0.965},{"m":"SKMS","x":800,"y":0.975},{"m":"SKMS","x":850,"y":0.975},{"m":"SKMS","x":900,"y":0.975},{"m":"SKMS","x":950,"y":0.975},{"m":"SKMS","x":1000,"y":0.985},
{"m":"LCVQE","x":50,"y":0.75},{"m":"LCVQE","x":100,"y":0.74},{"m":"LCVQE","x":150,"y":0.75},{"m":"LCVQE","x":200,"y":0.77},{"m":"LCVQE","x":250,"y":0.71},{"m":"LCVQE","x":300,"y":0.68},{"m":"LCVQE","x":350,"y":0.72},{"m":"LCVQE","x":400,"y":0.7},{"m":"LCVQE","x":450,"y":0.65},{"m":"LCVQE","x":500,"y":0.63},{"m":"LCVQE","x":550,"y":0.64},{"m":"LCVQE","x":600,"y":0.6},{"m":"LCVQE","x":650,"y":0.615},{"m":"LCVQE","x":700,"y":0.585},{"m":"LCVQE","x":750,"y":0.62},{"m":"LCVQE","x":800,"y":0.58},{"m":"LCVQE","x":850,"y":0.58},{"m":"LCVQE","x":900,"y":0.51},{"m":"LCVQE","x":950,"y":0.535},{"m":"LCVQE","x":1000,"y":0.51},
{"m":"Kmeans","x":50,"y":0.74},{"m":"Kmeans","x":100,"y":0.74},{"m":"Kmeans","x":150,"y":0.74},{"m":"Kmeans","x":200,"y":0.74},{"m":"Kmeans","x":250,"y":0.74},{"m":"Kmeans","x":300,"y":0.74},{"m":"Kmeans","x":350,"y":0.74},{"m":"Kmeans","x":400,"y":0.74},{"m":"Kmeans","x":450,"y":0.74},{"m":"Kmeans","x":500,"y":0.74},{"m":"Kmeans","x":550,"y":0.74},{"m":"Kmeans","x":600,"y":0.74},{"m":"Kmeans","x":650,"y":0.74},{"m":"Kmeans","x":700,"y":0.74},{"m":"Kmeans","x":750,"y":0.74},{"m":"Kmeans","x":800,"y":0.74},{"m":"Kmeans","x":850,"y":0.74},{"m":"Kmeans","x":900,"y":0.74},{"m":"Kmeans","x":950,"y":0.74},{"m":"Kmeans","x":1000,"y":0.74},
{"m":"CECM","x":50,"y":0.49},{"m":"CECM","x":100,"y":0.72},{"m":"CECM","x":150,"y":0.85},{"m":"CECM","x":200,"y":0.91},{"m":"CECM","x":250,"y":0.945},{"m":"CECM","x":300,"y":0.955},{"m":"CECM","x":350,"y":0.965},{"m":"CECM","x":400,"y":0.975},{"m":"CECM","x":450,"y":0.99},{"m":"CECM","x":500,"y":0.995},{"m":"CECM","x":550,"y":0.99},{"m":"CECM","x":600,"y":0.98},{"m":"CECM","x":650,"y":0.985},{"m":"CECM","x":700,"y":0.99},{"m":"CECM","x":750,"y":0.995},{"m":"CECM","x":800,"y":0.995},{"m":"CECM","x":850,"y":0.995},{"m":"CECM","x":900,"y":0.995},{"m":"CECM","x":950,"y":0.995},{"m":"CECM","x":1000,"y":0.995},
{"m":"Sync","x":50,"y":0.755},{"m":"Sync","x":100,"y":0.755},{"m":"Sync","x":150,"y":0.755},{"m":"Sync","x":200,"y":0.755},{"m":"Sync","x":250,"y":0.755},{"m":"Sync","x":300,"y":0.755},{"m":"Sync","x":350,"y":0.755},{"m":"Sync","x":400,"y":0.755},{"m":"Sync","x":450,"y":0.755},{"m":"Sync","x":500,"y":0.755},{"m":"Sync","x":550,"y":0.755},{"m":"Sync","x":600,"y":0.755},{"m":"Sync","x":650,"y":0.755},{"m":"Sync","x":700,"y":0.755},{"m":"Sync","x":750,"y":0.755},{"m":"Sync","x":800,"y":0.755},{"m":"Sync","x":850,"y":0.755},{"m":"Sync","x":900,"y":0.755},{"m":"Sync","x":950,"y":0.755},{"m":"Sync","x":1000,"y":0.755},
{"m":"C1SP","x":50,"y":0.72},{"m":"C1SP","x":100,"y":0.8},{"m":"C1SP","x":150,"y":0.86},{"m":"C1SP","x":200,"y":0.9},{"m":"C1SP","x":250,"y":0.93},{"m":"C1SP","x":300,"y":0.955},{"m":"C1SP","x":350,"y":0.965},{"m":"C1SP","x":400,"y":0.98},{"m":"C1SP","x":450,"y":0.99},{"m":"C1SP","x":500,"y":0.995},{"m":"C1SP","x":550,"y":0.995},{"m":"C1SP","x":600,"y":0.995},{"m":"C1SP","x":650,"y":1},{"m":"C1SP","x":700,"y":1},{"m":"C1SP","x":750,"y":1},{"m":"C1SP","x":800,"y":1},{"m":"C1SP","x":850,"y":1},{"m":"C1SP","x":900,"y":1},{"m":"C1SP","x":950,"y":1},{"m":"C1SP","x":1000,"y":1},
{"m":"CPSNMF","x":50,"y":0.68},{"m":"CPSNMF","x":100,"y":0.69},{"m":"CPSNMF","x":150,"y":0.705},{"m":"CPSNMF","x":200,"y":0.715},{"m":"CPSNMF","x":250,"y":0.725},{"m":"CPSNMF","x":300,"y":0.735},{"m":"CPSNMF","x":350,"y":0.745},{"m":"CPSNMF","x":400,"y":0.76},{"m":"CPSNMF","x":450,"y":0.78},{"m":"CPSNMF","x":500,"y":0.79},{"m":"CPSNMF","x":550,"y":0.8},{"m":"CPSNMF","x":600,"y":0.815},{"m":"CPSNMF","x":650,"y":0.82},{"m":"CPSNMF","x":700,"y":0.83},{"m":"CPSNMF","x":750,"y":0.835},{"m":"CPSNMF","x":800,"y":0.84},{"m":"CPSNMF","x":850,"y":0.85},{"m":"CPSNMF","x":900,"y":0.855},{"m":"CPSNMF","x":950,"y":0.865},{"m":"CPSNMF","x":1000,"y":0.87},
{"m":"SemiSync","x":50,"y":0.82},{"m":"SemiSync","x":100,"y":0.86},{"m":"SemiSync","x":150,"y":0.91},{"m":"SemiSync","x":200,"y":0.95},{"m":"SemiSync","x":250,"y":0.98},{"m":"SemiSync","x":300,"y":0.995},{"m":"SemiSync","x":350,"y":1},{"m":"SemiSync","x":400,"y":1},{"m":"SemiSync","x":450,"y":1},{"m":"SemiSync","x":500,"y":1},{"m":"SemiSync","x":550,"y":1},{"m":"SemiSync","x":600,"y":1},{"m":"SemiSync","x":650,"y":1},{"m":"SemiSync","x":700,"y":1},{"m":"SemiSync","x":750,"y":1},{"m":"SemiSync","x":800,"y":1},{"m":"SemiSync","x":850,"y":1},{"m":"SemiSync","x":900,"y":1},{"m":"SemiSync","x":950,"y":1},{"m":"SemiSync","x":1000,"y":1}
],
"glass": [
{"m":"MPCKMeans","x":50,"y":0.315},{"m":"MPCKMeans","x":100,"y":0.33},{"m":"MPCKMeans","x":150,"y":0.345},{"m":"MPCKMeans","x":200,"y":0.34},{"m":"MPCKMeans","x":250,"y":0.355},{"m":"MPCKMeans","x":300,"y":0.36},{"m":"MPCKMeans","x":350,"y":0.365},{"m":"MPCKMeans","x":400,"y":0.375},{"m":"MPCKMeans","x":450,"y":0.375},{"m":"MPCKMeans","x":500,"y":0.4},{"m":"MPCKMeans","x":550,"y":0.4},{"m":"MPCKMeans","x":600,"y":0.41},{"m":"MPCKMeans","x":650,"y":0.44},{"m":"MPCKMeans","x":700,"y":0.46},{"m":"MPCKMeans","x":750,"y":0.485},{"m":"MPCKMeans","x":800,"y":0.495},{"m":"MPCKMeans","x":850,"y":0.545},{"m":"MPCKMeans","x":900,"y":0.54},{"m":"MPCKMeans","x":950,"y":0.59},{"m":"MPCKMeans","x":1000,"y":0.605},
{"m":"SKMS","x":50,"y":0.26},{"m":"SKMS","x":100,"y":0.275},{"m":"SKMS","x":150,"y":0.315},{"m":"SKMS","x":200,"y":0.345},{"m":"SKMS","x":250,"y":0.375},{"m":"SKMS","x":300,"y":0.41},{"m":"SKMS","x":350,"y":0.43},{"m":"SKMS","x":400,"y":0.445},{"m":"SKMS","x":450,"y":0.465},{"m":"SKMS","x":500,"y":0.48},{"m":"SKMS","x":550,"y":0.515},{"m":"SKMS","x":600,"y":0.55},{"m":"SKMS","x":650,"y":0.605},{"m":"SKMS","x":700,"y":0.65},{"m":"SKMS","x":750,"y":0.665},{"m":"SKMS","x":800,"y":0.715},{"m":"SKMS","x":850,"y":0.715},{"m":"SKMS","x":900,"y":0.74},{"m":"SKMS","x":950,"y":0.715},{"m":"SKMS","x":1000,"y":0.715},
{"m":"LCVQE","x":50,"y":0.33},{"m":"LCVQE","x":100,"y":0.335},{"m":"LCVQE","x":150,"y":0.34},{"m":"LCVQE","x":200,"y":0.345},{"m":"LCVQE","x":250,"y":0.35},{"m":"LCVQE","x":300,"y":0.35},{"m":"LCVQE","x":350,"y":0.35},{"m":"LCVQE","x":400,"y":0.35},{"m":"LCVQE","x":450,"y":0.35},{"m":"LCVQE","x":500,"y":0.35},{"m":"LCVQE","x":550,"y":0.35},{"m":"LCVQE","x":600,"y":0.355},{"m":"LCVQE","x":650,"y":0.355},{"m":"LCVQE","x":700,"y":0.36},{"m":"LCVQE","x":750,"y":0.355},{"m":"LCVQE","x":800,"y":0.355},{"m":"LCVQE","x":850,"y":0.36},{"m":"LCVQE","x":900,"y":0.355},{"m":"LCVQE","x":950,"y":0.355},{"m":"LCVQE","x":1000,"y":0.355},
{"m":"Kmeans","x":50,"y":0.34},{"m":"Kmeans","x":100,"y":0.34},{"m":"Kmeans","x":150,"y":0.34},{"m":"Kmeans","x":200,"y":0.34},{"m":"Kmeans","x":250,"y":0.34},{"m":"Kmeans","x":300,"y":0.34},{"m":"Kmeans","x":350,"y":0.34},{"m":"Kmeans","x":400,"y":0.34},{"m":"Kmeans","x":450,"y":0.34},{"m":"Kmeans","x":500,"y":0.34},{"m":"Kmeans","x":550,"y":0.34},{"m":"Kmeans","x":600,"y":0.34},{"m":"Kmeans","x":650,"y":0.34},{"m":"Kmeans","x":700,"y":0.34},{"m":"Kmeans","x":750,"y":0.34},{"m":"Kmeans","x":800,"y":0.34},{"m":"Kmeans","x":850,"y":0.34},{"m":"Kmeans","x":900,"y":0.34},{"m":"Kmeans","x":950,"y":0.34},{"m":"Kmeans","x":1000,"y":0.34},
{"m":"Sync","x":50,"y":0.345},{"m":"Sync","x":100,"y":0.345},{"m":"Sync","x":150,"y":0.345},{"m":"Sync","x":200,"y":0.345},{"m":"Sync","x":250,"y":0.345},{"m":"Sync","x":300,"y":0.345},{"m":"Sync","x":350,"y":0.345},{"m":"Sync","x":400,"y":0.345},{"m":"Sync","x":450,"y":0.345},{"m":"Sync","x":500,"y":0.345},{"m":"Sync","x":550,"y":0.345},{"m":"Sync","x":600,"y":0.345},{"m":"Sync","x":650,"y":0.345},{"m":"Sync","x":700,"y":0.345},{"m":"Sync","x":750,"y":0.345},{"m":"Sync","x":800,"y":0.345},{"m":"Sync","x":850,"y":0.345},{"m":"Sync","x":900,"y":0.345},{"m":"Sync","x":950,"y":0.345},{"m":"Sync","x":1000,"y":0.345},
{"m":"C1SP","x":50,"y":0.285},{"m":"C1SP","x":100,"y":0.3},{"m":"C1SP","x":150,"y":0.35},{"m":"C1SP","x":200,"y":0.365},{"m":"C1SP","x":250,"y":0.385},{"m":"C1SP","x":300,"y":0.43},{"m":"C1SP","x":350,"y":0.49},{"m":"C1SP","x":400,"y":0.53},{"m":"C1SP","x":450,"y":0.58},{"m":"C1SP","x":500,"y":0.61},{"m":"C1SP","x":550,"y":0.615},{"m":"C1SP","x":600,"y":0.665},{"m":"C1SP","x":650,"y":0.68},{"m":"C1SP","x":700,"y":0.72},{"m":"C1SP","x":750,"y":0.71},{"m":"C1SP","x":800,"y":0.74},{"m":"C1SP","x":850,"y":0.75},{"m":"C1SP","x":900,"y":0.76},{"m":"C1SP","x":950,"y":0.775},{"m":"C1SP","x":1000,"y":0.765},
{"m":"CPSNMF","x":50,"y":0.33},{"m":"CPSNMF","x":100,"y":0.35},{"m":"CPSNMF","x":150,"y":0.375},{"m":"CPSNMF","x":200,"y":0.375},{"m":"CPSNMF","x":250,"y":0.395},{"m":"CPSNMF","x":300,"y":0.405},{"m":"CPSNMF","x":350,"y":0.41},{"m":"CPSNMF","x":400,"y":0.42},{"m":"CPSNMF","x":450,"y":0.425},{"m":"CPSNMF","x":500,"y":0.43},{"m":"CPSNMF","x":550,"y":0.44},{"m":"CPSNMF","x":600,"y":0.44},{"m":"CPSNMF","x":650,"y":0.445},{"m":"CPSNMF","x":700,"y":0.455},{"m":"CPSNMF","x":750,"y":0.455},{"m":"CPSNMF","x":800,"y":0.465},{"m":"CPSNMF","x":850,"y":0.47},{"m":"CPSNMF","x":900,"y":0.475},{"m":"CPSNMF","x":950,"y":0.475},{"m":"CPSNMF","x":1000,"y":0.49},
{"m":"SemiSync","x":50,"y":0.4},{"m":"SemiSync","x":100,"y":0.41},{"m":"SemiSync","x":150,"y":0.44},{"m":"SemiSync","x":200,"y":0.435},{"m":"SemiSync","x":250,"y":0.47},{"m":"SemiSync","x":300,"y":0.475},{"m":"SemiSync","x":350,"y":0.51},{"m":"SemiSync","x":400,"y":0.545},{"m":"SemiSync","x":450,"y":0.59},{"m":"SemiSync","x":500,"y":0.61},{"m":"SemiSync","x":550,"y":0.645},{"m":"SemiSync","x":600,"y":0.7},{"m":"SemiSync","x":650,"y":0.72},{"m":"SemiSync","x":700,"y":0.75},{"m":"SemiSync","x":750,"y":0.765},{"m":"SemiSync","x":800,"y":0.78},{"m":"SemiSync","x":850,"y":0.81},{"m":"SemiSync","x":900,"y":0.81},{"m":"SemiSync","x":950,"y":0.84},{"m":"SemiSync","x":1000,"y":0.83}
],
"car": [
{"m":"MPCKMeans","x":50,"y":0.17},{"m":"MPCKMeans","x":100,"y":0.185},{"m":"MPCKMeans","x":150,"y":0.18},{"m":"MPCKMeans","x":200,"y":0.165},{"m":"MPCKMeans","x":250,"y":0.175},{"m":"MPCKMeans","x":300,"y":0.16},{"m":"MPCKMeans","x":350,"y":0.195},{"m":"MPCKMeans","x":400,"y":0.175},{"m":"MPCKMeans","x":450,"y":0.145},{"m":"MPCKMeans","x":500,"y":0.175},{"m":"MPCKMeans","x":550,"y":0.18},{"m":"MPCKMeans","x":600,"y":0.17},{"m":"MPCKMeans","x":650,"y":0.16},{"m":"MPCKMeans","x":700,"y":0.14},{"m":"MPCKMeans","x":750,"y":0.165},{"m":"MPCKMeans","x":800,"y":0.195},{"m":"MPCKMeans","x":850,"y":0.18},{"m":"MPCKMeans","x":900,"y":0.16},{"m":"MPCKMeans","x":950,"y":0.18},{"m":"MPCKMeans","x":1000,"y":0.18},
{"m":"SKMS","x":50,"y":0.36},{"m":"SKMS","x":100,"y":0.33},{"m":"SKMS","x":150,"y":0.32},{"m":"SKMS","x":200,"y":0.3},{"m":"SKMS","x":250,"y":0.27},{"m":"SKMS","x":300,"y":0.265},{"m":"SKMS","x":350,"y":0.255},{"m":"SKMS","x":400,"y":0.265},{"m":"SKMS","x":450,"y":0.27},{"m":"SKMS","x":500,"y":0.285},{"m":"SKMS","x":550,"y":0.3},{"m":"SKMS","x":600,"y":0.305},{"m":"SKMS","x":650,"y":0.325},{"m":"SKMS","x":700,"y":0.33},{"m":"SKMS","x":750,"y":0.34},{"m":"SKMS","x":800,"y":0.34},{"m":"SKMS","x":850,"y":0.35},{"m":"SKMS","x":900,"y":0.355},{"m":"SKMS","x":950,"y":0.355},{"m":"SKMS","x":1000,"y":0.37},
{"m":"LCVQE","x":50,"y":0.21},{"m":"LCVQE","x":100,"y":0.215},{"m":"LCVQE","x":150,"y":0.215},{"m":"LCVQE","x":200,"y":0.225},{"m":"LCVQE","x":250,"y":0.23},{"m":"LCVQE","x":300,"y":0.235},{"m":"LCVQE","x":350,"y":0.24},{"m":"LCVQE","x":400,"y":0.25},{"m":"LCVQE","x":450,"y":0.255},{"m":"LCVQE","x":500,"y":0.26},{"m":"LCVQE","x":550,"y":0.265},{"m":"LCVQE","x":600,"y":0.275},{"m":"LCVQE","x":650,"y":0.29},{"m":"LCVQE","x":700,"y":0.29},{"m":"LCVQE","x":750,"y":0.29},{"m":"LCVQE","x":800,"y":0.29},{"m":"LCVQE","x":850,"y":0.295},{"m":"LCVQE","x":900,"y":0.305},{"m":"LCVQE","x":950,"y":0.305},{"m":"LCVQE","x":1000,"y":0.31},
{"m":"Kmeans","x":50,"y":0.265},{"m":"Kmeans","x":100,"y":0.265},{"m":"Kmeans","x":150,"y":0.265},{"m":"Kmeans","x":200,"y":0.265},{"m":"Kmeans","x":250,"y":0.265},{"m":"Kmeans","x":300,"y":0.265},{"m":"Kmeans","x":350,"y":0.265},{"m":"Kmeans","x":400,"y":0.265},{"m":"Kmeans","x":450,"y":0.265},{"m":"Kmeans","x":500,"y":0.265},{"m":"Kmeans","x":550,"y":0.265},{"m":"Kmeans","x":600,"y":0.265},{"m":"Kmeans","x":650,"y":0.265},{"m":"Kmeans","x":700,"y":0.265},{"m":"Kmeans","x":750,"y":0.265},{"m":"Kmeans","x":800,"y":0.265},{"m":"Kmeans","x":850,"y":0.265},{"m":"Kmeans","x":900,"y":0.265},{"m":"Kmeans","x":950,"y":0.265},{"m":"Kmeans","x":1000,"y":0.265},
{"m":"Sync","x":50,"y":0.26},{"m":"Sync","x":100,"y":0.26},{"m":"Sync","x":150,"y":0.26},{"m":"Sync","x":200,"y":0.26},{"m":"Sync","x":250,"y":0.26},{"m":"Sync","x":300,"y":0.26},{"m":"Sync","x":350,"y":0.26},{"m":"Sync","x":400,"y":0.26},{"m":"Sync","x":450,"y":0.26},{"m":"Sync","x":500,"y":0.26},{"m":"Sync","x":550,"y":0.26},{"m":"Sync","x":600,"y":0.26},{"m":"Sync","x":650,"y":0.26},{"m":"Sync","x":700,"y":0.26},{"m":"Sync","x":750,"y":0.26},{"m":"Sync","x":800,"y":0.26},{"m":"Sync","x":850,"y":0.26},{"m":"Sync","x":900,"y":0.26},{"m":"Sync","x":950,"y":0.26},{"m":"Sync","x":1000,"y":0.26},
{"m":"C1SP","x":50,"y":0.195},{"m":"C1SP","x":100,"y":0.215},{"m":"C1SP","x":150,"y":0.255},{"m":"C1SP","x":200,"y":0.29},{"m":"C1SP","x":250,"y":0.335},{"m":"C1SP","x":300,"y":0.37},{"m":"C1SP","x":350,"y":0.385},{"m":"C1SP","x":400,"y":0.42},{"m":"C1SP","x":450,"y":0.45},{"m":"C1SP","x":500,"y":0.465},{"m":"C1SP","x":550,"y":0.47},{"m":"C1SP","x":600,"y":0.505},{"m":"C1SP","x":650,"y":0.53},{"m":"C1SP","x":700,"y":0.565},{"m":"C1SP","x":750,"y":0.575},{"m":"C1SP","x":800,"y":0.6},{"m":"C1SP","x":850,"y":0.615},{"m":"C1SP","x":900,"y":0.615},{"m":"C1SP","x":950,"y":0.63},{"m":"C1SP","x":1000,"y":0.65},
{"m":"CPSNMF","x":50,"y":0.255},{"m":"CPSNMF","x":100,"y":0.265},{"m":"CPSNMF","x":150,"y":0.28},{"m":"CPSNMF","x":200,"y":0.3},{"m":"CPSNMF","x":250,"y":0.315},{"m":"CPSNMF","x":300,"y":0.325},{"m":"CPSNMF","x":350,"y":0.34},{"m":"CPSNMF","x":400,"y":0.355},{"m":"CPSNMF","x":450,"y":0.355},{"m":"CPSNMF","x":500,"y":0.375},{"m":"CPSNMF","x":550,"y":0.38},{"m":"CPSNMF","x":600,"y":0.395},{"m":"CPSNMF","x":650,"y":0.405},{"m":"CPSNMF","x":700,"y":0.42},{"m":"CPSNMF","x":750,"y":0.415},{"m":"CPSNMF","x":800,"y":0.43},{"m":"CPSNMF","x":850,"y":0.435},{"m":"CPSNMF","x":900,"y":0.44},{"m":"CPSNMF","x":950,"y":0.45},{"m":"CPSNMF","x":1000,"y":0.455},
{"m":"SemiSync","x":50,"y":0.24},{"m":"SemiSync","x":100,"y":0.265},{"m":"SemiSync","x":150,"y":0.29},{"m":"SemiSync","x":200,"y":0.36},{"m":"SemiSync","x":250,"y":0.38},{"m":"SemiSync","x":300,"y":0.435},{"m":"SemiSync","x":350,"y":0.455},{"m":"SemiSync","x":400,"y":0.475},{"m":"SemiSync","x":450,"y":0.475},{"m":"SemiSync","x":500,"y":0.49},{"m":"SemiSync","x":550,"y":0.505},{"m":"SemiSync","x":600,"y":0.515},{"m":"SemiSync","x":650,"y":0.525},{"m":"SemiSync","x":700,"y":0.545},{"m":"SemiSync","x":750,"y":0.52},{"m":"SemiSync","x":800,"y":0.53},{"m":"SemiSync","x":850,"y":0.525},{"m":"SemiSync","x":900,"y":0.55},{"m":"SemiSync","x":950,"y":0.565},{"m":"SemiSync","x":1000,"y":0.575}
]
},
"columns": 4,
"spacing": {"row": 84, "column": 56},
"bounds": "flush",
"resolve": {"scale": {"color": "independent", "shape": "independent"}},
"concat": [
{"title": "Iris", "width": 172, "height": 175, "data": {"name": "iris"},
 "encoding": {
  "x": {"field": "x", "type": "quantitative", "scale": {"domain": [50, 1000], "nice": false}, "axis": {"values": [200, 400, 600, 800, 1000], "title": "# Pairwise Constraints"}},
  "y": {"field": "y", "type": "quantitative", "scale": {"domain": [0.3, 1], "nice": false, "zero": false}, "axis": {"values": [0.4, 0.6, 0.8, 1], "format": "~g", "title": "NMI Value"}}
 },
 "resolve": {"scale": {"color": "independent", "shape": "independent"}},
 "layer": [
  {"mark": {"type": "line", "strokeWidth": 1.3}, "encoding": {"color": {"field": "m", "type": "nominal", "legend": null, "scale": {"domain": ["MPCKMeans","SKMS","LCVQE","Kmeans","CECM","Sync","C1SP","SemiSync","CPSNMF"], "range": ["#0072BD","#4DBEEE","#D95319","#8E5656","#EDB120","#5F5F5F","#7E2F8E","#A2142F","#77AC30"]}}}},
  {"mark": {"type": "point", "filled": true, "opacity": 1, "size": 36}, "encoding": {"color": {"field": "m", "type": "nominal", "legend": null, "scale": {"domain": ["MPCKMeans","SKMS","LCVQE","Kmeans","CECM","Sync","C1SP","SemiSync","CPSNMF"], "range": ["#0072BD","#4DBEEE","#D95319","#8E5656","#EDB120","#5F5F5F","#7E2F8E","#A2142F","#77AC30"]}}, "shape": {"field": "m", "type": "nominal", "legend": null, "scale": {"domain": ["MPCKMeans","SKMS","LCVQE","Kmeans","CECM","Sync","C1SP","SemiSync","CPSNMF"], "range": ["M0.75,0A0.75,0.75,0,1,1,-0.75,0A0.75,0.75,0,1,1,0.75,0Z","M0,-1L0.85,0L0,1L-0.85,0Z","M-0.2,-0.8H0.2V-0.2H0.8V0.2H0.2V0.8H-0.2V0.2H-0.8V-0.2H-0.2Z","M0,-0.95L0.95,0.7L-0.95,0.7Z","M0.45,0A0.45,0.45,0,1,1,-0.45,0A0.45,0.45,0,1,1,0.45,0Z","M0,0.95L-0.95,-0.7L0.95,-0.7Z","M0.5,0A0.5,0.5,0,1,1,-0.5,0A0.5,0.5,0,1,1,0.5,0Z","M0,-1.3L0.321,-0.442L1.236,-0.402L0.519,0.169L0.764,1.052L0,0.546L-0.764,1.052L-0.519,0.169L-1.236,-0.402L-0.321,-0.442Z","M-0.7,-0.7H0.7V0.7H-0.7Z"]}}}},
  {"mark": {"type": "point", "filled": true, "opacity": 0, "size": 36}, "encoding": {"color": {"field": "m", "type": "nominal", "legend": {"orient": "none", "legendX": 30, "legendY": 102, "columns": 2, "direction": "horizontal", "title": null}, "scale": {"domain": ["MPCKMeans","SKMS","LCVQE","Kmeans","CECM","Sync","C1SP","SemiSync","CPSNMF"], "range": ["#0072BD","#4DBEEE","#D95319","#8E5656","#EDB120","#5F5F5F","#7E2F8E","#A2142F","#77AC30"]}}, "shape": {"field": "m", "type": "nominal", "legend": {"orient": "none", "legendX": 30, "legendY": 102, "columns": 2, "direction": "horizontal", "title": null}, "scale": {"domain": ["MPCKMeans","SKMS","LCVQE","Kmeans","CECM","Sync","C1SP","SemiSync","CPSNMF"], "range": ["M-2,-0.2H2V0.2H-2ZM0.75,0A0.75,0.75,0,1,1,-0.75,0A0.75,0.75,0,1,1,0.75,0Z","M-2,-0.2H2V0.2H-2ZM0,-1L0.85,0L0,1L-0.85,0Z","M-2,-0.2H2V0.2H-2ZM-0.2,-0.8H0.2V0.8H-0.2Z","M-2,-0.2H2V0.2H-2ZM0,-0.95L0.95,0.7L-0.95,0.7Z","M-2,-0.2H2V0.2H-2ZM0.45,0A0.45,0.45,0,1,1,-0.45,0A0.45,0.45,0,1,1,0.45,0Z","M-2,-0.2H2V0.2H-2ZM0,0.95L-0.95,-0.7L0.95,-0.7Z","M-2,-0.2H2V0.2H-2ZM0.5,0A0.5,0.5,0,1,1,-0.5,0A0.5,0.5,0,1,1,0.5,0Z","M-2,-0.2H2V0.2H-2ZM0,-1.3L0.321,-0.442L1.236,-0.402L0.519,0.169L0.764,1.052L0,0.546L-0.764,1.052L-0.519,0.169L-1.236,-0.402L-0.321,-0.442Z","M-2,-0.2H2V0.2H-2ZM-0.7,-0.7H0.7V0.7H-0.7Z"]}}}}
 ]
},
{"title": "Wine", "width": 172, "height": 175, "data": {"name": "wine"},
 "encoding": {
  "x": {"field": "x", "type": "quantitative", "scale": {"domain": [50, 1000], "nice": false}, "axis": {"values": [200, 400, 600, 800, 1000], "title": "# Pairwise Constraints"}},
  "y": {"field": "y", "type": "quantitative", "scale": {"domain": [0.3, 1], "nice": false, "zero": false}, "axis": {"values": [0.4, 0.6, 0.8, 1], "format": "~g", "title": "NMI Value"}}
 },
 "resolve": {"scale": {"color": "independent", "shape": "independent"}},
 "layer": [
  {"mark": {"type": "line", "strokeWidth": 1.3}, "encoding": {"color": {"field": "m", "type": "nominal", "legend": null, "scale": {"domain": ["MPCKMeans","SKMS","LCVQE","Kmeans","CECM","Sync","C1SP","SemiSync","CPSNMF"], "range": ["#0072BD","#4DBEEE","#D95319","#8E5656","#EDB120","#5F5F5F","#7E2F8E","#A2142F","#77AC30"]}}}},
  {"mark": {"type": "point", "filled": true, "opacity": 1, "size": 36}, "encoding": {"color": {"field": "m", "type": "nominal", "legend": null, "scale": {"domain": ["MPCKMeans","SKMS","LCVQE","Kmeans","CECM","Sync","C1SP","SemiSync","CPSNMF"], "range": ["#0072BD","#4DBEEE","#D95319","#8E5656","#EDB120","#5F5F5F","#7E2F8E","#A2142F","#77AC30"]}}, "shape": {"field": "m", "type": "nominal", "legend": null, "scale": {"domain": ["MPCKMeans","SKMS","LCVQE","Kmeans","CECM","Sync","C1SP","SemiSync","CPSNMF"], "range": ["M0.75,0A0.75,0.75,0,1,1,-0.75,0A0.75,0.75,0,1,1,0.75,0Z","M0,-1L0.85,0L0,1L-0.85,0Z","M-0.2,-0.8H0.2V-0.2H0.8V0.2H0.2V0.8H-0.2V0.2H-0.8V-0.2H-0.2Z","M0,-0.95L0.95,0.7L-0.95,0.7Z","M0.45,0A0.45,0.45,0,1,1,-0.45,0A0.45,0.45,0,1,1,0.45,0Z","M0,0.95L-0.95,-0.7L0.95,-0.7Z","M0.5,0A0.5,0.5,0,1,1,-0.5,0A0.5,0.5,0,1,1,0.5,0Z","M0,-1.3L0.321,-0.442L1.236,-0.402L0.519,0.169L0.764,1.052L0,0.546L-0.764,1.052L-0.519,0.169L-1.236,-0.402L-0.321,-0.442Z","M-0.7,-0.7H0.7V0.7H-0.7Z"]}}}},
  {"mark": {"type": "point", "filled": true, "opacity": 0, "size": 36}, "encoding": {"color": {"field": "m", "type": "nominal", "legend": {"orient": "none", "legendX": 32, "legendY": 102, "columns": 2, "direction": "horizontal", "title": null}, "scale": {"domain": ["MPCKMeans","SKMS","LCVQE","Kmeans","CECM","Sync","C1SP","SemiSync","CPSNMF"], "range": ["#0072BD","#4DBEEE","#D95319","#8E5656","#EDB120","#5F5F5F","#7E2F8E","#A2142F","#77AC30"]}}, "shape": {"field": "m", "type": "nominal", "legend": {"orient": "none", "legendX": 32, "legendY": 102, "columns": 2, "direction": "horizontal", "title": null}, "scale": {"domain": ["MPCKMeans","SKMS","LCVQE","Kmeans","CECM","Sync","C1SP","SemiSync","CPSNMF"], "range": ["M-2,-0.2H2V0.2H-2ZM0.75,0A0.75,0.75,0,1,1,-0.75,0A0.75,0.75,0,1,1,0.75,0Z","M-2,-0.2H2V0.2H-2ZM0,-1L0.85,0L0,1L-0.85,0Z","M-2,-0.2H2V0.2H-2ZM-0.2,-0.8H0.2V0.8H-0.2Z","M-2,-0.2H2V0.2H-2ZM0,-0.95L0.95,0.7L-0.95,0.7Z","M-2,-0.2H2V0.2H-2ZM0.45,0A0.45,0.45,0,1,1,-0.45,0A0.45,0.45,0,1,1,0.45,0Z","M-2,-0.2H2V0.2H-2ZM0,0.95L-0.95,-0.7L0.95,-0.7Z","M-2,-0.2H2V0.2H-2ZM0.5,0A0.5,0.5,0,1,1,-0.5,0A0.5,0.5,0,1,1,0.5,0Z","M-2,-0.2H2V0.2H-2ZM0,-1.3L0.321,-0.442L1.236,-0.402L0.519,0.169L0.764,1.052L0,0.546L-0.764,1.052L-0.519,0.169L-1.236,-0.402L-0.321,-0.442Z","M-2,-0.2H2V0.2H-2ZM-0.7,-0.7H0.7V0.7H-0.7Z"]}}}}
 ]
},
{"title": "Seeds", "width": 172, "height": 175, "data": {"name": "seeds"},
 "encoding": {
  "x": {"field": "x", "type": "quantitative", "scale": {"domain": [50, 1000], "nice": false}, "axis": {"values": [200, 400, 600, 800, 1000], "title": "# Pairwise Constraints"}},
  "y": {"field": "y", "type": "quantitative", "scale": {"domain": [0.4, 1], "nice": false, "zero": false}, "axis": {"values": [0.4, 0.6, 0.8, 1], "format": "~g", "title": "NMI Value"}}
 },
 "resolve": {"scale": {"color": "independent", "shape": "independent"}},
 "layer": [
  {"mark": {"type": "line", "strokeWidth": 1.3}, "encoding": {"color": {"field": "m", "type": "nominal", "legend": null, "scale": {"domain": ["MPCKMeans","SKMS","LCVQE","Kmeans","CECM","Sync","C1SP","SemiSync","CPSNMF"], "range": ["#0072BD","#4DBEEE","#D95319","#8E5656","#EDB120","#5F5F5F","#7E2F8E","#A2142F","#77AC30"]}}}},
  {"mark": {"type": "point", "filled": true, "opacity": 1, "size": 36}, "encoding": {"color": {"field": "m", "type": "nominal", "legend": null, "scale": {"domain": ["MPCKMeans","SKMS","LCVQE","Kmeans","CECM","Sync","C1SP","SemiSync","CPSNMF"], "range": ["#0072BD","#4DBEEE","#D95319","#8E5656","#EDB120","#5F5F5F","#7E2F8E","#A2142F","#77AC30"]}}, "shape": {"field": "m", "type": "nominal", "legend": null, "scale": {"domain": ["MPCKMeans","SKMS","LCVQE","Kmeans","CECM","Sync","C1SP","SemiSync","CPSNMF"], "range": ["M0.75,0A0.75,0.75,0,1,1,-0.75,0A0.75,0.75,0,1,1,0.75,0Z","M0,-1L0.85,0L0,1L-0.85,0Z","M-0.2,-0.8H0.2V-0.2H0.8V0.2H0.2V0.8H-0.2V0.2H-0.8V-0.2H-0.2Z","M0,-0.95L0.95,0.7L-0.95,0.7Z","M0.45,0A0.45,0.45,0,1,1,-0.45,0A0.45,0.45,0,1,1,0.45,0Z","M0,0.95L-0.95,-0.7L0.95,-0.7Z","M0.5,0A0.5,0.5,0,1,1,-0.5,0A0.5,0.5,0,1,1,0.5,0Z","M0,-1.3L0.321,-0.442L1.236,-0.402L0.519,0.169L0.764,1.052L0,0.546L-0.764,1.052L-0.519,0.169L-1.236,-0.402L-0.321,-0.442Z","M-0.7,-0.7H0.7V0.7H-0.7Z"]}}}},
  {"mark": {"type": "point", "filled": true, "opacity": 0, "size": 36}, "encoding": {"color": {"field": "m", "type": "nominal", "legend": {"orient": "none", "legendX": 32, "legendY": 102, "columns": 2, "direction": "horizontal", "title": null}, "scale": {"domain": ["MPCKMeans","SKMS","LCVQE","Kmeans","CECM","Sync","C1SP","SemiSync","CPSNMF"], "range": ["#0072BD","#4DBEEE","#D95319","#8E5656","#EDB120","#5F5F5F","#7E2F8E","#A2142F","#77AC30"]}}, "shape": {"field": "m", "type": "nominal", "legend": {"orient": "none", "legendX": 32, "legendY": 102, "columns": 2, "direction": "horizontal", "title": null}, "scale": {"domain": ["MPCKMeans","SKMS","LCVQE","Kmeans","CECM","Sync","C1SP","SemiSync","CPSNMF"], "range": ["M-2,-0.2H2V0.2H-2ZM0.75,0A0.75,0.75,0,1,1,-0.75,0A0.75,0.75,0,1,1,0.75,0Z","M-2,-0.2H2V0.2H-2ZM0,-1L0.85,0L0,1L-0.85,0Z","M-2,-0.2H2V0.2H-2ZM-0.2,-0.8H0.2V0.8H-0.2Z","M-2,-0.2H2V0.2H-2ZM0,-0.95L0.95,0.7L-0.95,0.7Z","M-2,-0.2H2V0.2H-2ZM0.45,0A0.45,0.45,0,1,1,-0.45,0A0.45,0.45,0,1,1,0.45,0Z","M-2,-0.2H2V0.2H-2ZM0,0.95L-0.95,-0.7L0.95,-0.7Z","M-2,-0.2H2V0.2H-2ZM0.5,0A0.5,0.5,0,1,1,-0.5,0A0.5,0.5,0,1,1,0.5,0Z","M-2,-0.2H2V0.2H-2ZM0,-1.3L0.321,-0.442L1.236,-0.402L0.519,0.169L0.764,1.052L0,0.546L-0.764,1.052L-0.519,0.169L-1.236,-0.402L-0.321,-0.442Z","M-2,-0.2H2V0.2H-2ZM-0.7,-0.7H0.7V0.7H-0.7Z"]}}}}
 ]
},
{"title": "Ecoli", "width": 172, "height": 175, "data": {"name": "ecoli"},
 "encoding": {
  "x": {"field": "x", "type": "quantitative", "scale": {"domain": [50, 1000], "nice": false}, "axis": {"values": [200, 400, 600, 800, 1000], "title": "# Pairwise Constraints"}},
  "y": {"field": "y", "type": "quantitative", "scale": {"domain": [0, 0.875], "nice": false, "zero": false}, "axis": {"values": [0, 0.2, 0.4, 0.6, 0.8], "format": "~g", "title": "NMI Value"}}
 },
 "resolve": {"scale": {"color": "independent", "shape": "independent"}},
 "layer": [
  {"mark": {"type": "line", "strokeWidth": 1.3}, "encoding": {"color": {"field": "m", "type": "nominal", "legend": null, "scale": {"domain": ["MPCKMeans","SKMS","LCVQE","Kmeans","CECM","Sync","C1SP","SemiSync","CPSNMF"], "range": ["#0072BD","#4DBEEE","#D95319","#8E5656","#EDB120","#5F5F5F","#7E2F8E","#A2142F","#77AC30"]}}}},
  {"mark": {"type": "point", "filled": true, "opacity": 1, "size": 36}, "encoding": {"color": {"field": "m", "type": "nominal", "legend": null, "scale": {"domain": ["MPCKMeans","SKMS","LCVQE","Kmeans","CECM","Sync","C1SP","SemiSync","CPSNMF"], "range": ["#0072BD","#4DBEEE","#D95319","#8E5656","#EDB120","#5F5F5F","#7E2F8E","#A2142F","#77AC30"]}}, "shape": {"field": "m", "type": "nominal", "legend": null, "scale": {"domain": ["MPCKMeans","SKMS","LCVQE","Kmeans","CECM","Sync","C1SP","SemiSync","CPSNMF"], "range": ["M0.75,0A0.75,0.75,0,1,1,-0.75,0A0.75,0.75,0,1,1,0.75,0Z","M0,-1L0.85,0L0,1L-0.85,0Z","M-0.2,-0.8H0.2V-0.2H0.8V0.2H0.2V0.8H-0.2V0.2H-0.8V-0.2H-0.2Z","M0,-0.95L0.95,0.7L-0.95,0.7Z","M0.45,0A0.45,0.45,0,1,1,-0.45,0A0.45,0.45,0,1,1,0.45,0Z","M0,0.95L-0.95,-0.7L0.95,-0.7Z","M0.5,0A0.5,0.5,0,1,1,-0.5,0A0.5,0.5,0,1,1,0.5,0Z","M0,-1.3L0.321,-0.442L1.236,-0.402L0.519,0.169L0.764,1.052L0,0.546L-0.764,1.052L-0.519,0.169L-1.236,-0.402L-0.321,-0.442Z","M-0.7,-0.7H0.7V0.7H-0.7Z"]}}}},
  {"mark": {"type": "point", "filled": true, "opacity": 0, "size": 36}, "encoding": {"color": {"field": "m", "type": "nominal", "legend": {"orient": "none", "legendX": 28, "legendY": 102, "columns": 2, "direction": "horizontal", "title": null}, "scale": {"domain": ["MPCKMeans","SKMS","LCVQE","Kmeans","CECM","Sync","C1SP","SemiSync","CPSNMF"], "range": ["#0072BD","#4DBEEE","#D95319","#8E5656","#EDB120","#5F5F5F","#7E2F8E","#A2142F","#77AC30"]}}, "shape": {"field": "m", "type": "nominal", "legend": {"orient": "none", "legendX": 28, "legendY": 102, "columns": 2, "direction": "horizontal", "title": null}, "scale": {"domain": ["MPCKMeans","SKMS","LCVQE","Kmeans","CECM","Sync","C1SP","SemiSync","CPSNMF"], "range": ["M-2,-0.2H2V0.2H-2ZM0.75,0A0.75,0.75,0,1,1,-0.75,0A0.75,0.75,0,1,1,0.75,0Z","M-2,-0.2H2V0.2H-2ZM0,-1L0.85,0L0,1L-0.85,0Z","M-2,-0.2H2V0.2H-2ZM-0.2,-0.8H0.2V0.8H-0.2Z","M-2,-0.2H2V0.2H-2ZM0,-0.95L0.95,0.7L-0.95,0.7Z","M-2,-0.2H2V0.2H-2ZM0.45,0A0.45,0.45,0,1,1,-0.45,0A0.45,0.45,0,1,1,0.45,0Z","M-2,-0.2H2V0.2H-2ZM0,0.95L-0.95,-0.7L0.95,-0.7Z","M-2,-0.2H2V0.2H-2ZM0.5,0A0.5,0.5,0,1,1,-0.5,0A0.5,0.5,0,1,1,0.5,0Z","M-2,-0.2H2V0.2H-2ZM0,-1.3L0.321,-0.442L1.236,-0.402L0.519,0.169L0.764,1.052L0,0.546L-0.764,1.052L-0.519,0.169L-1.236,-0.402L-0.321,-0.442Z","M-2,-0.2H2V0.2H-2ZM-0.7,-0.7H0.7V0.7H-0.7Z"]}}}}
 ]
},
{"title": "Metabolic", "width": 172, "height": 175, "data": {"name": "metabolic"},
 "encoding": {
  "x": {"field": "x", "type": "quantitative", "scale": {"domain": [50, 1000], "nice": false}, "axis": {"values": [200, 400, 600, 800, 1000], "title": "# Pairwise Constraints", "domain": true, "domainColor": "#000", "domainWidth": 1}},
  "y": {"field": "y", "type": "quantitative", "scale": {"domain": [-0.055, 0.825], "nice": false, "zero": false}, "axis": {"values": [0, 0.2, 0.4, 0.6, 0.8], "format": "~g", "title": "NMI Value"}}
 },
 "resolve": {"scale": {"color": "independent", "shape": "independent"}},
 "layer": [
  {"mark": {"type": "line", "strokeWidth": 1.3}, "encoding": {"color": {"field": "m", "type": "nominal", "legend": null, "scale": {"domain": ["MPCKMeans","SKMS","LCVQE","Kmeans","CECM","Sync","C1SP","SemiSync","CPSNMF"], "range": ["#0072BD","#4DBEEE","#D95319","#8E5656","#EDB120","#5F5F5F","#7E2F8E","#A2142F","#77AC30"]}}}},
  {"mark": {"type": "point", "filled": true, "opacity": 1, "size": 36}, "encoding": {"color": {"field": "m", "type": "nominal", "legend": null, "scale": {"domain": ["MPCKMeans","SKMS","LCVQE","Kmeans","CECM","Sync","C1SP","SemiSync","CPSNMF"], "range": ["#0072BD","#4DBEEE","#D95319","#8E5656","#EDB120","#5F5F5F","#7E2F8E","#A2142F","#77AC30"]}}, "shape": {"field": "m", "type": "nominal", "legend": null, "scale": {"domain": ["MPCKMeans","SKMS","LCVQE","Kmeans","CECM","Sync","C1SP","SemiSync","CPSNMF"], "range": ["M0.75,0A0.75,0.75,0,1,1,-0.75,0A0.75,0.75,0,1,1,0.75,0Z","M0,-1L0.85,0L0,1L-0.85,0Z","M-0.2,-0.8H0.2V-0.2H0.8V0.2H0.2V0.8H-0.2V0.2H-0.8V-0.2H-0.2Z","M0,-0.95L0.95,0.7L-0.95,0.7Z","M0.45,0A0.45,0.45,0,1,1,-0.45,0A0.45,0.45,0,1,1,0.45,0Z","M0,0.95L-0.95,-0.7L0.95,-0.7Z","M0.5,0A0.5,0.5,0,1,1,-0.5,0A0.5,0.5,0,1,1,0.5,0Z","M0,-1.3L0.321,-0.442L1.236,-0.402L0.519,0.169L0.764,1.052L0,0.546L-0.764,1.052L-0.519,0.169L-1.236,-0.402L-0.321,-0.442Z","M-0.7,-0.7H0.7V0.7H-0.7Z"]}}}},
  {"mark": {"type": "point", "filled": true, "opacity": 0, "size": 36}, "encoding": {"color": {"field": "m", "type": "nominal", "legend": {"orient": "none", "legendX": 42, "legendY": 109, "columns": 2, "direction": "horizontal", "title": null}, "scale": {"domain": ["MPCKMeans","SKMS","LCVQE","Kmeans","CECM","Sync","C1SP","SemiSync","CPSNMF"], "range": ["#0072BD","#4DBEEE","#D95319","#8E5656","#EDB120","#5F5F5F","#7E2F8E","#A2142F","#77AC30"]}}, "shape": {"field": "m", "type": "nominal", "legend": {"orient": "none", "legendX": 42, "legendY": 109, "columns": 2, "direction": "horizontal", "title": null}, "scale": {"domain": ["MPCKMeans","SKMS","LCVQE","Kmeans","CECM","Sync","C1SP","SemiSync","CPSNMF"], "range": ["M-2,-0.2H2V0.2H-2ZM0.75,0A0.75,0.75,0,1,1,-0.75,0A0.75,0.75,0,1,1,0.75,0Z","M-2,-0.2H2V0.2H-2ZM0,-1L0.85,0L0,1L-0.85,0Z","M-2,-0.2H2V0.2H-2ZM-0.2,-0.8H0.2V0.8H-0.2Z","M-2,-0.2H2V0.2H-2ZM0,-0.95L0.95,0.7L-0.95,0.7Z","M-2,-0.2H2V0.2H-2ZM0.45,0A0.45,0.45,0,1,1,-0.45,0A0.45,0.45,0,1,1,0.45,0Z","M-2,-0.2H2V0.2H-2ZM0,0.95L-0.95,-0.7L0.95,-0.7Z","M-2,-0.2H2V0.2H-2ZM0.5,0A0.5,0.5,0,1,1,-0.5,0A0.5,0.5,0,1,1,0.5,0Z","M-2,-0.2H2V0.2H-2ZM0,-1.3L0.321,-0.442L1.236,-0.402L0.519,0.169L0.764,1.052L0,0.546L-0.764,1.052L-0.519,0.169L-1.236,-0.402L-0.321,-0.442Z","M-2,-0.2H2V0.2H-2ZM-0.7,-0.7H0.7V0.7H-0.7Z"]}}}}
 ]
},
{"title": "Oliveoil", "width": 172, "height": 175, "data": {"name": "oliveoil"},
 "encoding": {
  "x": {"field": "x", "type": "quantitative", "scale": {"domain": [50, 1000], "nice": false}, "axis": {"values": [200, 400, 600, 800, 1000], "title": "# Pairwise Constraints", "domain": true, "domainColor": "#000", "domainWidth": 1}},
  "y": {"field": "y", "type": "quantitative", "scale": {"domain": [0.31, 1], "nice": false, "zero": false}, "axis": {"values": [0.4, 0.6, 0.8, 1], "format": "~g", "title": "NMI Value"}}
 },
 "resolve": {"scale": {"color": "independent", "shape": "independent"}},
 "layer": [
  {"mark": {"type": "line", "strokeWidth": 1.3}, "encoding": {"color": {"field": "m", "type": "nominal", "legend": null, "scale": {"domain": ["MPCKMeans","SKMS","LCVQE","Kmeans","CECM","Sync","C1SP","SemiSync","CPSNMF"], "range": ["#0072BD","#4DBEEE","#D95319","#8E5656","#EDB120","#5F5F5F","#7E2F8E","#A2142F","#77AC30"]}}}},
  {"mark": {"type": "point", "filled": true, "opacity": 1, "size": 36}, "encoding": {"color": {"field": "m", "type": "nominal", "legend": null, "scale": {"domain": ["MPCKMeans","SKMS","LCVQE","Kmeans","CECM","Sync","C1SP","SemiSync","CPSNMF"], "range": ["#0072BD","#4DBEEE","#D95319","#8E5656","#EDB120","#5F5F5F","#7E2F8E","#A2142F","#77AC30"]}}, "shape": {"field": "m", "type": "nominal", "legend": null, "scale": {"domain": ["MPCKMeans","SKMS","LCVQE","Kmeans","CECM","Sync","C1SP","SemiSync","CPSNMF"], "range": ["M0.75,0A0.75,0.75,0,1,1,-0.75,0A0.75,0.75,0,1,1,0.75,0Z","M0,-1L0.85,0L0,1L-0.85,0Z","M-0.2,-0.8H0.2V-0.2H0.8V0.2H0.2V0.8H-0.2V0.2H-0.8V-0.2H-0.2Z","M0,-0.95L0.95,0.7L-0.95,0.7Z","M0.45,0A0.45,0.45,0,1,1,-0.45,0A0.45,0.45,0,1,1,0.45,0Z","M0,0.95L-0.95,-0.7L0.95,-0.7Z","M0.5,0A0.5,0.5,0,1,1,-0.5,0A0.5,0.5,0,1,1,0.5,0Z","M0,-1.3L0.321,-0.442L1.236,-0.402L0.519,0.169L0.764,1.052L0,0.546L-0.764,1.052L-0.519,0.169L-1.236,-0.402L-0.321,-0.442Z","M-0.7,-0.7H0.7V0.7H-0.7Z"]}}}},
  {"mark": {"type": "point", "filled": true, "opacity": 0, "size": 36}, "encoding": {"color": {"field": "m", "type": "nominal", "legend": {"orient": "none", "legendX": 2, "legendY": 108, "columns": 2, "direction": "horizontal", "title": null}, "scale": {"domain": ["MPCKMeans","SKMS","LCVQE","Kmeans","CECM","Sync","C1SP","SemiSync","CPSNMF"], "range": ["#0072BD","#4DBEEE","#D95319","#8E5656","#EDB120","#5F5F5F","#7E2F8E","#A2142F","#77AC30"]}}, "shape": {"field": "m", "type": "nominal", "legend": {"orient": "none", "legendX": 2, "legendY": 108, "columns": 2, "direction": "horizontal", "title": null}, "scale": {"domain": ["MPCKMeans","SKMS","LCVQE","Kmeans","CECM","Sync","C1SP","SemiSync","CPSNMF"], "range": ["M-2,-0.2H2V0.2H-2ZM0.75,0A0.75,0.75,0,1,1,-0.75,0A0.75,0.75,0,1,1,0.75,0Z","M-2,-0.2H2V0.2H-2ZM0,-1L0.85,0L0,1L-0.85,0Z","M-2,-0.2H2V0.2H-2ZM-0.2,-0.8H0.2V0.8H-0.2Z","M-2,-0.2H2V0.2H-2ZM0,-0.95L0.95,0.7L-0.95,0.7Z","M-2,-0.2H2V0.2H-2ZM0.45,0A0.45,0.45,0,1,1,-0.45,0A0.45,0.45,0,1,1,0.45,0Z","M-2,-0.2H2V0.2H-2ZM0,0.95L-0.95,-0.7L0.95,-0.7Z","M-2,-0.2H2V0.2H-2ZM0.5,0A0.5,0.5,0,1,1,-0.5,0A0.5,0.5,0,1,1,0.5,0Z","M-2,-0.2H2V0.2H-2ZM0,-1.3L0.321,-0.442L1.236,-0.402L0.519,0.169L0.764,1.052L0,0.546L-0.764,1.052L-0.519,0.169L-1.236,-0.402L-0.321,-0.442Z","M-2,-0.2H2V0.2H-2ZM-0.7,-0.7H0.7V0.7H-0.7Z"]}}}}
 ]
},
{"title": "Glass", "width": 172, "height": 175, "data": {"name": "glass"},
 "encoding": {
  "x": {"field": "x", "type": "quantitative", "scale": {"domain": [50, 1000], "nice": false}, "axis": {"values": [200, 400, 600, 800, 1000], "title": "# Pairwise Constraints", "domain": true, "domainColor": "#000", "domainWidth": 1}},
  "y": {"field": "y", "type": "quantitative", "scale": {"domain": [0.2, 1], "nice": false, "zero": false}, "axis": {"values": [0.2, 0.4, 0.6, 0.8, 1], "format": "~g", "title": "NMI Value"}}
 },
 "resolve": {"scale": {"color": "independent", "shape": "independent"}},
 "layer": [
  {"mark": {"type": "line", "strokeWidth": 1.3}, "encoding": {"color": {"field": "m", "type": "nominal", "legend": null, "scale": {"domain": ["MPCKMeans","SKMS","LCVQE","Kmeans","C1SP","Sync","CPSNMF","SemiSync"], "range": ["#0072BD","#4DBEEE","#D95319","#8E5656","#7E2F8E","#5F5F5F","#77AC30","#A2142F"]}}}},
  {"mark": {"type": "point", "filled": true, "opacity": 1, "size": 36}, "encoding": {"color": {"field": "m", "type": "nominal", "legend": null, "scale": {"domain": ["MPCKMeans","SKMS","LCVQE","Kmeans","C1SP","Sync","CPSNMF","SemiSync"], "range": ["#0072BD","#4DBEEE","#D95319","#8E5656","#7E2F8E","#5F5F5F","#77AC30","#A2142F"]}}, "shape": {"field": "m", "type": "nominal", "legend": null, "scale": {"domain": ["MPCKMeans","SKMS","LCVQE","Kmeans","C1SP","Sync","CPSNMF","SemiSync"], "range": ["M0.75,0A0.75,0.75,0,1,1,-0.75,0A0.75,0.75,0,1,1,0.75,0Z","M0,-1L0.85,0L0,1L-0.85,0Z","M-0.2,-0.8H0.2V-0.2H0.8V0.2H0.2V0.8H-0.2V0.2H-0.8V-0.2H-0.2Z","M0,-0.95L0.95,0.7L-0.95,0.7Z","M0.5,0A0.5,0.5,0,1,1,-0.5,0A0.5,0.5,0,1,1,0.5,0Z","M0,0.95L-0.95,-0.7L0.95,-0.7Z","M-0.7,-0.7H0.7V0.7H-0.7Z","M0,-1.3L0.321,-0.442L1.236,-0.402L0.519,0.169L0.764,1.052L0,0.546L-0.764,1.052L-0.519,0.169L-1.236,-0.402L-0.321,-0.442Z"]}}}},
  {"mark": {"type": "point", "filled": true, "opacity": 0, "size": 36}, "encoding": {"color": {"field": "m", "type": "nominal", "legend": {"orient": "none", "legendX": 1, "legendY": 4, "columns": 2, "direction": "horizontal", "title": null}, "scale": {"domain": ["MPCKMeans","SKMS","LCVQE","Kmeans","C1SP","Sync","CPSNMF","SemiSync"], "range": ["#0072BD","#4DBEEE","#D95319","#8E5656","#7E2F8E","#5F5F5F","#77AC30","#A2142F"]}}, "shape": {"field": "m", "type": "nominal", "legend": {"orient": "none", "legendX": 1, "legendY": 4, "columns": 2, "direction": "horizontal", "title": null}, "scale": {"domain": ["MPCKMeans","SKMS","LCVQE","Kmeans","C1SP","Sync","CPSNMF","SemiSync"], "range": ["M-2,-0.2H2V0.2H-2ZM0.75,0A0.75,0.75,0,1,1,-0.75,0A0.75,0.75,0,1,1,0.75,0Z","M-2,-0.2H2V0.2H-2ZM0,-1L0.85,0L0,1L-0.85,0Z","M-2,-0.2H2V0.2H-2ZM-0.2,-0.8H0.2V0.8H-0.2Z","M-2,-0.2H2V0.2H-2ZM0,-0.95L0.95,0.7L-0.95,0.7Z","M-2,-0.2H2V0.2H-2ZM0.5,0A0.5,0.5,0,1,1,-0.5,0A0.5,0.5,0,1,1,0.5,0Z","M-2,-0.2H2V0.2H-2ZM0,0.95L-0.95,-0.7L0.95,-0.7Z","M-2,-0.2H2V0.2H-2ZM-0.7,-0.7H0.7V0.7H-0.7Z","M-2,-0.2H2V0.2H-2ZM0,-1.3L0.321,-0.442L1.236,-0.402L0.519,0.169L0.764,1.052L0,0.546L-0.764,1.052L-0.519,0.169L-1.236,-0.402L-0.321,-0.442Z"]}}}}
 ]
},
{"title": "Car", "width": 172, "height": 175, "data": {"name": "car"},
 "encoding": {
  "x": {"field": "x", "type": "quantitative", "scale": {"domain": [50, 1000], "nice": false}, "axis": {"values": [200, 400, 600, 800, 1000], "title": "# Pairwise Constraints", "domain": true, "domainColor": "#000", "domainWidth": 1}},
  "y": {"field": "y", "type": "quantitative", "scale": {"domain": [0.1, 0.8], "nice": false, "zero": false}, "axis": {"values": [0.2, 0.4, 0.6, 0.8], "format": "~g", "title": "NMI Value"}}
 },
 "resolve": {"scale": {"color": "independent", "shape": "independent"}},
 "layer": [
  {"mark": {"type": "line", "strokeWidth": 1.3}, "encoding": {"color": {"field": "m", "type": "nominal", "legend": null, "scale": {"domain": ["MPCKMeans","SKMS","LCVQE","Kmeans","C1SP","Sync","CPSNMF","SemiSync"], "range": ["#0072BD","#4DBEEE","#D95319","#8E5656","#7E2F8E","#5F5F5F","#77AC30","#A2142F"]}}}},
  {"mark": {"type": "point", "filled": true, "opacity": 1, "size": 36}, "encoding": {"color": {"field": "m", "type": "nominal", "legend": null, "scale": {"domain": ["MPCKMeans","SKMS","LCVQE","Kmeans","C1SP","Sync","CPSNMF","SemiSync"], "range": ["#0072BD","#4DBEEE","#D95319","#8E5656","#7E2F8E","#5F5F5F","#77AC30","#A2142F"]}}, "shape": {"field": "m", "type": "nominal", "legend": null, "scale": {"domain": ["MPCKMeans","SKMS","LCVQE","Kmeans","C1SP","Sync","CPSNMF","SemiSync"], "range": ["M0.75,0A0.75,0.75,0,1,1,-0.75,0A0.75,0.75,0,1,1,0.75,0Z","M0,-1L0.85,0L0,1L-0.85,0Z","M-0.2,-0.8H0.2V-0.2H0.8V0.2H0.2V0.8H-0.2V0.2H-0.8V-0.2H-0.2Z","M0,-0.95L0.95,0.7L-0.95,0.7Z","M0.5,0A0.5,0.5,0,1,1,-0.5,0A0.5,0.5,0,1,1,0.5,0Z","M0,0.95L-0.95,-0.7L0.95,-0.7Z","M-0.7,-0.7H0.7V0.7H-0.7Z","M0,-1.3L0.321,-0.442L1.236,-0.402L0.519,0.169L0.764,1.052L0,0.546L-0.764,1.052L-0.519,0.169L-1.236,-0.402L-0.321,-0.442Z"]}}}},
  {"mark": {"type": "point", "filled": true, "opacity": 0, "size": 36}, "encoding": {"color": {"field": "m", "type": "nominal", "legend": {"orient": "none", "legendX": -2, "legendY": 6, "columns": 2, "direction": "horizontal", "title": null}, "scale": {"domain": ["MPCKMeans","SKMS","LCVQE","Kmeans","C1SP","Sync","CPSNMF","SemiSync"], "range": ["#0072BD","#4DBEEE","#D95319","#8E5656","#7E2F8E","#5F5F5F","#77AC30","#A2142F"]}}, "shape": {"field": "m", "type": "nominal", "legend": {"orient": "none", "legendX": -2, "legendY": 6, "columns": 2, "direction": "horizontal", "title": null}, "scale": {"domain": ["MPCKMeans","SKMS","LCVQE","Kmeans","C1SP","Sync","CPSNMF","SemiSync"], "range": ["M-2,-0.2H2V0.2H-2ZM0.75,0A0.75,0.75,0,1,1,-0.75,0A0.75,0.75,0,1,1,0.75,0Z","M-2,-0.2H2V0.2H-2ZM0,-1L0.85,0L0,1L-0.85,0Z","M-2,-0.2H2V0.2H-2ZM-0.2,-0.8H0.2V0.8H-0.2Z","M-2,-0.2H2V0.2H-2ZM0,-0.95L0.95,0.7L-0.95,0.7Z","M-2,-0.2H2V0.2H-2ZM0.5,0A0.5,0.5,0,1,1,-0.5,0A0.5,0.5,0,1,1,0.5,0Z","M-2,-0.2H2V0.2H-2ZM0,0.95L-0.95,-0.7L0.95,-0.7Z","M-2,-0.2H2V0.2H-2ZM-0.7,-0.7H0.7V0.7H-0.7Z","M-2,-0.2H2V0.2H-2ZM0,-1.3L0.321,-0.442L1.236,-0.402L0.519,0.169L0.764,1.052L0,0.546L-0.764,1.052L-0.519,0.169L-1.236,-0.402L-0.321,-0.442Z"]}}}}
 ]
}
]
}
